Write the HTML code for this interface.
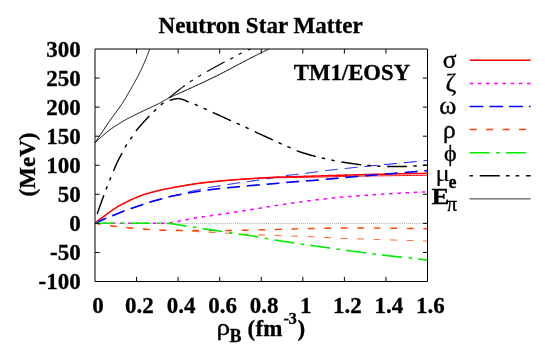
<!DOCTYPE html>
<html><head><meta charset="utf-8"><title>Neutron Star Matter</title>
<style>
html,body{margin:0;padding:0;background:#fff;}
svg{display:block;will-change:transform;}
text{font-family:"Liberation Serif",serif;fill:#000;}
.b{font-weight:bold;font-size:23px;stroke:#000;stroke-width:0.3px;}
.g{font-size:24px;}
</style></head><body>
<svg width="545" height="348" viewBox="0 0 545 348">
<rect width="545" height="348" fill="#fff"/>
<defs><clipPath id="cp"><rect x="95.00" y="49.00" width="332.50" height="232.50"/></clipPath></defs>
<line x1="95.00" y1="223.38" x2="427.50" y2="223.38" stroke="#888" stroke-width="0.8" stroke-dasharray="0.9,1.16"/>
<g clip-path="url(#cp)" fill="none">
<path d="M95.00,142.80 L95.31,142.34 L95.66,141.81 L96.06,141.21 L96.50,140.56 L96.97,139.85 L97.47,139.09 L98.01,138.29 L98.57,137.44 L99.15,136.57 L99.76,135.66 L100.38,134.72 L101.02,133.76 L101.67,132.79 L102.33,131.81 L102.99,130.81 L103.66,129.82 L104.32,128.83 L104.98,127.85 L105.64,126.88 L106.28,125.93 L106.91,125.00 L107.53,124.10 L108.13,123.23 L108.70,122.40 L109.27,121.59 L109.84,120.77 L110.42,119.95 L111.01,119.13 L111.59,118.31 L112.19,117.49 L112.78,116.67 L113.37,115.85 L113.97,115.03 L114.56,114.22 L115.15,113.42 L115.73,112.62 L116.31,111.83 L116.88,111.04 L117.45,110.26 L118.00,109.50 L118.55,108.74 L119.09,107.99 L119.61,107.26 L120.12,106.54 L120.61,105.83 L121.09,105.14 L121.56,104.46 L122.00,103.80 L122.43,103.16 L122.84,102.53 L123.23,101.92 L123.61,101.33 L123.97,100.75 L124.32,100.19 L124.66,99.63 L124.99,99.09 L125.31,98.56 L125.62,98.04 L125.92,97.53 L126.22,97.02 L126.51,96.52 L126.79,96.02 L127.07,95.53 L127.35,95.04 L127.63,94.55 L127.90,94.07 L128.18,93.58 L128.46,93.09 L128.74,92.60 L129.02,92.10 L129.31,91.61 L129.60,91.10 L129.89,90.59 L130.19,90.09 L130.48,89.59 L130.77,89.09 L131.05,88.60 L131.34,88.10 L131.62,87.61 L131.90,87.13 L132.18,86.64 L132.46,86.15 L132.73,85.67 L133.01,85.19 L133.28,84.71 L133.55,84.22 L133.82,83.74 L134.09,83.26 L134.36,82.78 L134.62,82.30 L134.89,81.82 L135.15,81.34 L135.42,80.86 L135.68,80.37 L135.94,79.89 L136.20,79.40 L136.46,78.91 L136.72,78.42 L136.98,77.94 L137.23,77.45 L137.49,76.96 L137.75,76.48 L138.00,75.99 L138.25,75.50 L138.50,75.01 L138.75,74.52 L139.00,74.04 L139.25,73.55 L139.50,73.06 L139.74,72.58 L139.98,72.09 L140.23,71.60 L140.47,71.11 L140.70,70.62 L140.94,70.14 L141.18,69.65 L141.41,69.16 L141.64,68.68 L141.87,68.19 L142.10,67.70 L142.33,67.21 L142.56,66.71 L142.79,66.21 L143.01,65.70 L143.24,65.18 L143.47,64.66 L143.70,64.15 L143.93,63.63 L144.15,63.11 L144.37,62.59 L144.59,62.07 L144.81,61.56 L145.03,61.05 L145.24,60.54 L145.45,60.04 L145.65,59.55 L145.85,59.07 L146.05,58.59 L146.24,58.13 L146.42,57.68 L146.60,57.24 L146.77,56.81 L146.94,56.40 L147.10,56.00 L147.25,55.62 L147.40,55.25 L147.53,54.90 L147.66,54.57 L147.79,54.24 L147.90,53.93 L148.02,53.63 L148.12,53.34 L148.22,53.05 L148.32,52.78 L148.42,52.50 L148.51,52.24 L148.60,51.97 L148.69,51.71 L148.78,51.46 L148.87,51.20 L148.95,50.94 L149.04,50.67 L149.13,50.41 L149.22,50.14 L149.31,49.87 L149.40,49.59 L149.50,49.30 L149.60,49.00 L149.70,48.69 L149.81,48.37 L149.92,48.04 L150.03,47.69 L150.15,47.34 L150.26,46.98 L150.38,46.62 L150.50,46.26 L150.61,45.89 L150.73,45.53 L150.84,45.17 L150.96,44.81 L151.07,44.46 L151.18,44.12 L151.28,43.79 L151.38,43.46 L151.48,43.15 L151.57,42.86 L151.66,42.58 L151.74,42.32 L151.82,42.08 L151.88,41.86 L151.95,41.67 L152.00,41.50" stroke="#000" stroke-width="1.00"/>
<path d="M95.00,142.80 L95.31,142.53 L95.65,142.21 L96.04,141.86 L96.46,141.47 L96.91,141.05 L97.39,140.60 L97.90,140.12 L98.44,139.61 L99.00,139.09 L99.59,138.55 L100.19,137.99 L100.81,137.43 L101.44,136.85 L102.09,136.26 L102.74,135.67 L103.40,135.09 L104.07,134.50 L104.74,133.92 L105.41,133.34 L106.08,132.78 L106.75,132.23 L107.41,131.70 L108.06,131.19 L108.70,130.70 L109.34,130.22 L109.99,129.75 L110.64,129.27 L111.31,128.80 L111.98,128.32 L112.66,127.85 L113.35,127.38 L114.04,126.91 L114.74,126.45 L115.45,125.99 L116.15,125.53 L116.86,125.07 L117.58,124.61 L118.29,124.16 L119.01,123.72 L119.72,123.27 L120.44,122.84 L121.15,122.40 L121.87,121.97 L122.58,121.55 L123.29,121.13 L124.00,120.71 L124.70,120.30 L125.40,119.90 L126.10,119.50 L126.79,119.11 L127.49,118.73 L128.18,118.36 L128.88,117.98 L129.57,117.62 L130.27,117.26 L130.97,116.90 L131.66,116.55 L132.36,116.20 L133.05,115.86 L133.75,115.52 L134.45,115.18 L135.14,114.84 L135.84,114.51 L136.53,114.17 L137.23,113.84 L137.93,113.51 L138.62,113.18 L139.32,112.84 L140.01,112.51 L140.71,112.17 L141.40,111.84 L142.10,111.50 L142.80,111.16 L143.51,110.82 L144.23,110.47 L144.96,110.13 L145.69,109.78 L146.43,109.44 L147.17,109.09 L147.91,108.75 L148.65,108.40 L149.39,108.06 L150.12,107.72 L150.86,107.38 L151.58,107.04 L152.30,106.71 L153.01,106.38 L153.71,106.05 L154.40,105.73 L155.08,105.41 L155.75,105.09 L156.39,104.78 L157.02,104.48 L157.64,104.18 L158.23,103.89 L158.80,103.60 L159.35,103.32 L159.87,103.05 L160.36,102.79 L160.83,102.53 L161.28,102.28 L161.72,102.03 L162.14,101.79 L162.54,101.56 L162.93,101.33 L163.32,101.10 L163.70,100.87 L164.07,100.65 L164.44,100.43 L164.81,100.21 L165.18,99.98 L165.56,99.76 L165.94,99.54 L166.34,99.32 L166.74,99.09 L167.16,98.86 L167.59,98.63 L168.04,98.39 L168.51,98.15 L169.00,97.90 L169.49,97.66 L169.97,97.43 L170.44,97.20 L170.89,96.99 L171.34,96.79 L171.78,96.59 L172.22,96.39 L172.67,96.19 L173.12,95.99 L173.58,95.79 L174.06,95.58 L174.55,95.37 L175.06,95.15 L175.60,94.91 L176.16,94.67 L176.76,94.41 L177.38,94.14 L178.05,93.84 L178.75,93.53 L179.50,93.20 L180.30,92.84 L181.14,92.45 L182.04,92.04 L183.00,91.60 L184.02,91.13 L185.10,90.63 L186.25,90.11 L187.44,89.56 L188.69,88.99 L189.99,88.40 L191.32,87.79 L192.70,87.16 L194.10,86.51 L195.54,85.86 L197.00,85.18 L198.49,84.50 L199.99,83.81 L201.50,83.11 L203.02,82.40 L204.55,81.69 L206.07,80.97 L207.60,80.25 L209.11,79.53 L210.61,78.82 L212.09,78.10 L213.55,77.40 L214.99,76.69 L216.40,76.00 L217.80,75.30 L219.23,74.58 L220.67,73.85 L222.13,73.10 L223.60,72.34 L225.08,71.57 L226.57,70.79 L228.06,70.01 L229.55,69.23 L231.04,68.44 L232.52,67.65 L233.99,66.87 L235.45,66.09 L236.89,65.32 L238.32,64.56 L239.72,63.81 L241.10,63.08 L242.45,62.36 L243.77,61.66 L245.06,60.98 L246.30,60.32 L247.51,59.68 L248.68,59.08 L249.80,58.50 L250.88,57.95 L251.92,57.42 L252.93,56.91 L253.91,56.41 L254.85,55.94 L255.77,55.48 L256.66,55.04 L257.52,54.61 L258.36,54.20 L259.17,53.80 L259.96,53.41 L260.74,53.03 L261.49,52.66 L262.23,52.31 L262.95,51.95 L263.66,51.61 L264.35,51.27 L265.04,50.94 L265.71,50.61 L266.38,50.29 L267.04,49.97 L267.70,49.64 L268.35,49.32 L269.00,49.00 L269.65,48.68 L270.29,48.36 L270.93,48.04 L271.56,47.73 L272.18,47.42 L272.79,47.11 L273.39,46.81 L273.98,46.52 L274.55,46.23 L275.12,45.95 L275.67,45.67 L276.20,45.41 L276.72,45.15 L277.22,44.90 L277.70,44.66 L278.16,44.43 L278.59,44.21 L279.01,44.00 L279.41,43.80 L279.78,43.61 L280.12,43.44 L280.44,43.28 L280.74,43.13 L281.00,43.00" stroke="#000" stroke-width="1.00"/>
<path d="M169.00,97.90 L169.16,97.77 L169.34,97.63 L169.53,97.46 L169.75,97.28 L169.99,97.09 L170.24,96.88 L170.50,96.66 L170.78,96.43 L171.07,96.19 L171.37,95.94 L171.69,95.69 L172.01,95.43 L172.33,95.16 L172.67,94.88 L173.00,94.61 L173.34,94.33 L173.68,94.06 L174.02,93.78 L174.36,93.51 L174.70,93.23 L175.03,92.97 L175.36,92.70 L175.69,92.45 L176.00,92.20 L176.31,91.95 L176.63,91.71 L176.95,91.46 L177.28,91.20 L177.61,90.95 L177.94,90.69 L178.28,90.43 L178.61,90.17 L178.95,89.91 L179.29,89.66 L179.63,89.40 L179.98,89.14 L180.32,88.88 L180.65,88.62 L180.99,88.37 L181.33,88.11 L181.66,87.86 L182.00,87.62 L182.32,87.37 L182.65,87.13 L182.97,86.89 L183.28,86.66 L183.59,86.43 L183.90,86.20 L184.20,85.98 L184.49,85.77 L184.77,85.56 L185.05,85.35 L185.32,85.15 L185.59,84.95 L185.85,84.76 L186.11,84.56 L186.37,84.37 L186.63,84.18 L186.89,84.00 L187.14,83.81 L187.40,83.63 L187.66,83.44 L187.92,83.26 L188.19,83.07 L188.45,82.88 L188.73,82.69 L189.00,82.50 L189.29,82.31 L189.58,82.11 L189.88,81.91 L190.18,81.71 L190.50,81.50 L190.83,81.29 L191.16,81.07 L191.51,80.85 L191.86,80.63 L192.22,80.40 L192.59,80.17 L192.96,79.94 L193.33,79.71 L193.71,79.47 L194.10,79.24 L194.48,79.00 L194.87,78.77 L195.26,78.53 L195.64,78.30 L196.03,78.07 L196.41,77.84 L196.79,77.61 L197.17,77.38 L197.54,77.16 L197.91,76.94 L198.27,76.72 L198.62,76.51 L198.96,76.30 L199.30,76.10 L199.62,75.91 L199.92,75.73 L200.20,75.56 L200.46,75.39 L200.71,75.24 L200.95,75.09 L201.18,74.95 L201.41,74.81 L201.63,74.68 L201.85,74.54 L202.08,74.41 L202.31,74.27 L202.54,74.13 L202.79,73.98 L203.05,73.83 L203.33,73.66 L203.62,73.49 L203.93,73.31 L204.27,73.11 L204.63,72.90 L205.03,72.68 L205.45,72.44 L205.91,72.18 L206.40,71.90 L206.94,71.60 L207.53,71.27 L208.16,70.91 L208.83,70.53 L209.54,70.14 L210.28,69.72 L211.04,69.29 L211.83,68.85 L212.64,68.40 L213.46,67.94 L214.29,67.48 L215.12,67.02 L215.96,66.56 L216.79,66.09 L217.61,65.64 L218.42,65.19 L219.21,64.76 L219.98,64.33 L220.73,63.92 L221.44,63.53 L222.12,63.16 L222.76,62.82 L223.35,62.49 L223.90,62.20 L224.40,61.93 L224.87,61.69 L225.30,61.46 L225.71,61.25 L226.09,61.06 L226.44,60.88 L226.77,60.72 L227.08,60.57 L227.37,60.43 L227.65,60.30 L227.91,60.17 L228.17,60.06 L228.42,59.94 L228.66,59.83 L228.90,59.72 L229.14,59.61 L229.39,59.49 L229.64,59.38 L229.90,59.25 L230.17,59.12 L230.45,58.98 L230.75,58.83 L231.06,58.67 L231.40,58.50 L231.75,58.32 L232.10,58.13 L232.46,57.94 L232.82,57.74 L233.18,57.54 L233.54,57.34 L233.91,57.14 L234.28,56.93 L234.66,56.72 L235.03,56.51 L235.41,56.30 L235.79,56.08 L236.18,55.87 L236.57,55.65 L236.96,55.43 L237.35,55.21 L237.75,55.00 L238.15,54.78 L238.55,54.56 L238.95,54.35 L239.36,54.13 L239.77,53.92 L240.18,53.71 L240.60,53.50 L241.02,53.29 L241.44,53.08 L241.87,52.88 L242.31,52.67 L242.75,52.47 L243.19,52.26 L243.64,52.06 L244.09,51.85 L244.54,51.65 L245.00,51.44 L245.45,51.24 L245.91,51.03 L246.37,50.83 L246.83,50.62 L247.29,50.41 L247.76,50.20 L248.22,49.99 L248.68,49.79 L249.14,49.57 L249.59,49.36 L250.05,49.15 L250.50,48.93 L250.95,48.72 L251.40,48.50 L251.85,48.28 L252.32,48.04 L252.81,47.80 L253.30,47.55 L253.80,47.29 L254.31,47.03 L254.83,46.77 L255.34,46.50 L255.86,46.23 L256.37,45.97 L256.87,45.70 L257.38,45.44 L257.87,45.18 L258.34,44.93 L258.81,44.68 L259.26,44.44 L259.69,44.22 L260.10,44.00 L260.49,43.80 L260.85,43.60 L261.18,43.43 L261.49,43.27 L261.76,43.12 L262.00,43.00" stroke="#000" stroke-width="1.15" stroke-dasharray="20.10,6.20,3.50,6.20,3.50,6.80" stroke-dashoffset="0.00"/>
<path d="M176.70,186.95 L177.08,186.89 L177.51,186.81 L177.99,186.73 L178.52,186.63 L179.09,186.53 L179.70,186.42 L180.35,186.30 L181.03,186.18 L181.74,186.06 L182.47,185.93 L183.23,185.79 L184.01,185.66 L184.80,185.52 L185.60,185.38 L186.40,185.24 L187.21,185.10 L188.03,184.96 L188.83,184.83 L189.63,184.69 L190.42,184.56 L191.20,184.44 L191.96,184.32 L192.69,184.21 L193.40,184.10 L194.10,184.00 L194.79,183.90 L195.49,183.80 L196.18,183.70 L196.88,183.60 L197.58,183.51 L198.27,183.42 L198.97,183.33 L199.66,183.24 L200.36,183.15 L201.05,183.06 L201.75,182.97 L202.45,182.89 L203.14,182.80 L203.84,182.72 L204.53,182.64 L205.23,182.55 L205.93,182.47 L206.62,182.39 L207.32,182.31 L208.01,182.23 L208.71,182.16 L209.40,182.08 L210.10,182.00 L210.79,181.92 L211.47,181.85 L212.14,181.78 L212.80,181.71 L213.45,181.64 L214.10,181.57 L214.74,181.50 L215.39,181.43 L216.03,181.37 L216.68,181.30 L217.33,181.24 L217.98,181.18 L218.64,181.11 L219.31,181.05 L219.99,180.99 L220.68,180.92 L221.38,180.86 L222.10,180.80 L222.83,180.73 L223.58,180.67 L224.35,180.60 L225.15,180.54 L225.96,180.47 L226.80,180.40 L227.66,180.33 L228.55,180.26 L229.47,180.19 L230.40,180.11 L231.36,180.04 L232.33,179.96 L233.32,179.89 L234.32,179.81 L235.33,179.73 L236.36,179.66 L237.40,179.58 L238.44,179.51 L239.50,179.43 L240.55,179.36 L241.61,179.28 L242.67,179.21 L243.73,179.14 L244.79,179.07 L245.84,179.00 L246.89,178.94 L247.93,178.87 L248.97,178.81 L249.99,178.76 L251.00,178.70 L252.00,178.65 L253.00,178.60 L254.00,178.55 L255.00,178.50 L256.00,178.45 L256.99,178.41 L257.98,178.36 L258.98,178.32 L259.97,178.28 L260.96,178.24 L261.96,178.21 L262.95,178.17 L263.94,178.13 L264.94,178.10 L265.94,178.07 L266.93,178.03 L267.93,178.00 L268.93,177.97 L269.94,177.94 L270.94,177.91 L271.95,177.88 L272.97,177.85 L273.98,177.83 L275.00,177.80 L276.01,177.77 L277.00,177.75 L277.97,177.73 L278.94,177.71 L279.89,177.69 L280.83,177.67 L281.77,177.66 L282.70,177.64 L283.64,177.63 L284.59,177.62 L285.54,177.61 L286.50,177.59 L287.48,177.58 L288.47,177.57 L289.48,177.56 L290.52,177.54 L291.58,177.53 L292.67,177.52 L293.80,177.50 L294.95,177.48 L296.15,177.47 L297.39,177.45 L298.67,177.42 L300.00,177.40 L301.39,177.37 L302.85,177.35 L304.36,177.32 L305.94,177.29 L307.56,177.26 L309.23,177.22 L310.93,177.19 L312.67,177.16 L314.43,177.12 L316.21,177.08 L318.01,177.05 L319.81,177.01 L321.62,176.98 L323.42,176.94 L325.22,176.90 L327.00,176.87 L328.76,176.83 L330.49,176.80 L332.19,176.76 L333.85,176.73 L335.47,176.69 L337.04,176.66 L338.55,176.63 L340.00,176.60 L341.39,176.57 L342.74,176.54 L344.05,176.51 L345.31,176.49 L346.55,176.46 L347.75,176.43 L348.92,176.40 L350.07,176.38 L351.20,176.35 L352.31,176.33 L353.41,176.30 L354.50,176.28 L355.58,176.25 L356.66,176.23 L357.73,176.20 L358.81,176.18 L359.90,176.15 L361.00,176.13 L362.11,176.11 L363.24,176.09 L364.39,176.06 L365.56,176.04 L366.77,176.02 L368.00,176.00 L369.26,175.98 L370.53,175.96 L371.82,175.94 L373.13,175.92 L374.44,175.90 L375.77,175.88 L377.10,175.87 L378.44,175.85 L379.79,175.83 L381.15,175.81 L382.51,175.80 L383.88,175.78 L385.24,175.77 L386.61,175.75 L387.97,175.73 L389.33,175.72 L390.69,175.70 L392.05,175.69 L393.40,175.67 L394.74,175.66 L396.07,175.64 L397.39,175.63 L398.70,175.61 L400.00,175.60 L401.31,175.59 L402.67,175.57 L404.05,175.56 L405.46,175.54 L406.90,175.53 L408.34,175.51 L409.80,175.50 L411.26,175.48 L412.71,175.47 L414.16,175.45 L415.59,175.44 L417.00,175.42 L418.38,175.41 L419.73,175.40 L421.04,175.39 L422.30,175.37 L423.51,175.36 L424.66,175.35 L425.74,175.34 L426.76,175.33 L427.70,175.32 L428.56,175.31 L429.33,175.31 L430.00,175.30" stroke="#ff0000" stroke-width="1.00"/>
<path d="M95.20,223.40 L95.44,223.28 L95.72,223.15 L96.04,222.99 L96.39,222.82 L96.77,222.63 L97.18,222.42 L97.61,222.21 L98.07,221.98 L98.54,221.75 L99.03,221.50 L99.53,221.26 L100.04,221.01 L100.56,220.75 L101.08,220.50 L101.59,220.25 L102.11,220.00 L102.61,219.75 L103.11,219.51 L103.59,219.28 L104.06,219.06 L104.51,218.85 L104.93,218.65 L105.33,218.47 L105.70,218.30 L106.04,218.15 L106.36,218.01 L106.66,217.88 L106.94,217.76 L107.21,217.65 L107.46,217.55 L107.70,217.46 L107.93,217.37 L108.16,217.29 L108.38,217.21 L108.60,217.13 L108.81,217.05 L109.03,216.97 L109.25,216.89 L109.48,216.81 L109.72,216.73 L109.97,216.64 L110.23,216.55 L110.51,216.45 L110.80,216.34 L111.12,216.22 L111.45,216.09 L111.81,215.95 L112.20,215.80 L112.62,215.63 L113.06,215.46 L113.53,215.27 L114.03,215.07 L114.55,214.86 L115.09,214.64 L115.64,214.42 L116.21,214.19 L116.79,213.95 L117.38,213.71 L117.97,213.47 L118.56,213.23 L119.16,212.99 L119.75,212.75 L120.33,212.51 L120.91,212.28 L121.48,212.05 L122.03,211.83 L122.57,211.62 L123.08,211.41 L123.58,211.22 L124.05,211.03 L124.49,210.86 L124.90,210.70 L125.28,210.55 L125.63,210.42 L125.95,210.30 L126.25,210.19 L126.52,210.09 L126.78,210.00 L127.02,209.91 L127.24,209.83 L127.45,209.75 L127.66,209.68 L127.86,209.62 L128.06,209.55 L128.25,209.48 L128.45,209.42 L128.66,209.35 L128.87,209.28 L129.09,209.21 L129.33,209.13 L129.59,209.05 L129.86,208.95 L130.15,208.86 L130.47,208.75 L130.82,208.63 L131.20,208.50 L131.61,208.36 L132.05,208.21 L132.52,208.05 L133.02,207.88 L133.53,207.70 L134.07,207.52 L134.62,207.33 L135.19,207.14 L135.77,206.94 L136.35,206.74 L136.94,206.54 L137.54,206.34 L138.13,206.14 L138.72,205.93 L139.30,205.74 L139.88,205.54 L140.44,205.35 L140.99,205.16 L141.52,204.98 L142.03,204.81 L142.51,204.64 L142.97,204.48 L143.40,204.34 L143.80,204.20 L144.17,204.07 L144.50,203.96 L144.81,203.85 L145.09,203.74 L145.36,203.65 L145.60,203.56 L145.82,203.48 L146.03,203.40 L146.23,203.32 L146.42,203.25 L146.60,203.18 L146.78,203.11 L146.96,203.05 L147.13,202.98 L147.31,202.91 L147.50,202.85 L147.69,202.78 L147.90,202.71 L148.12,202.64 L148.35,202.56 L148.60,202.48 L148.88,202.39 L149.18,202.30 L149.50,202.20 L149.85,202.10 L150.21,201.99 L150.60,201.88 L151.00,201.76 L151.41,201.64 L151.84,201.52 L152.28,201.40 L152.73,201.28 L153.18,201.15 L153.65,201.03 L154.11,200.90 L154.59,200.77 L155.06,200.64 L155.54,200.51 L156.01,200.38 L156.49,200.26 L156.95,200.13 L157.42,200.00 L157.87,199.88 L158.32,199.76 L158.76,199.64 L159.19,199.52 L159.60,199.41 L160.00,199.30 L160.38,199.19 L160.75,199.09 L161.11,198.99 L161.45,198.89 L161.79,198.79 L162.11,198.70 L162.43,198.61 L162.74,198.51 L163.05,198.42 L163.36,198.33 L163.66,198.25 L163.97,198.16 L164.28,198.07 L164.59,197.98 L164.91,197.89 L165.24,197.80 L165.57,197.70 L165.92,197.61 L166.28,197.51 L166.65,197.42 L167.03,197.32 L167.44,197.21 L167.86,197.11 L168.30,197.00 L168.77,196.89 L169.26,196.77 L169.77,196.65 L170.31,196.53 L170.86,196.41 L171.43,196.28 L172.01,196.15 L172.61,196.02 L173.21,195.89 L173.82,195.76 L174.43,195.63 L175.05,195.49 L175.66,195.36 L176.28,195.23 L176.88,195.10 L177.48,194.97 L178.07,194.84 L178.65,194.71 L179.21,194.58 L179.75,194.46 L180.27,194.34 L180.77,194.22 L181.25,194.11 L181.70,194.00 L182.12,193.89 L182.52,193.79 L182.89,193.69 L183.24,193.59 L183.58,193.49 L183.89,193.40 L184.19,193.31 L184.48,193.22 L184.76,193.13 L185.03,193.04 L185.30,192.95 L185.56,192.87 L185.82,192.78 L186.08,192.70 L186.34,192.61 L186.61,192.53 L186.88,192.44 L187.17,192.35 L187.46,192.26 L187.78,192.17 L188.10,192.08 L188.45,191.99 L188.81,191.90 L189.20,191.80 L189.61,191.70 L190.04,191.60 L190.49,191.50 L190.96,191.39 L191.44,191.29 L191.93,191.18 L192.43,191.07 L192.94,190.96 L193.46,190.85 L193.99,190.74 L194.52,190.63 L195.05,190.52 L195.58,190.41 L196.11,190.30 L196.64,190.19 L197.16,190.09 L197.67,189.98 L198.17,189.88 L198.66,189.77 L199.14,189.67 L199.61,189.58 L200.06,189.48 L200.49,189.39 L200.90,189.30 L201.29,189.21 L201.66,189.13 L202.02,189.05 L202.35,188.97 L202.68,188.89 L202.99,188.82 L203.29,188.75 L203.59,188.67 L203.87,188.60 L204.15,188.53 L204.43,188.47 L204.70,188.40 L204.97,188.33 L205.25,188.27 L205.52,188.20 L205.80,188.14 L206.09,188.07 L206.38,188.01 L206.69,187.94 L207.00,187.87 L207.33,187.81 L207.67,187.74 L208.03,187.67 L208.40,187.60 L208.79,187.53 L209.20,187.46 L209.62,187.38 L210.05,187.31 L210.49,187.24 L210.95,187.17 L211.41,187.09 L211.88,187.02 L212.35,186.94 L212.83,186.87 L213.32,186.80 L213.80,186.73 L214.29,186.65 L214.77,186.58 L215.25,186.51 L215.73,186.44 L216.21,186.37 L216.68,186.30 L217.14,186.23 L217.59,186.16 L218.04,186.09 L218.47,186.03 L218.89,185.96 L219.30,185.90 L219.69,185.84 L220.07,185.78 L220.44,185.72 L220.79,185.67 L221.14,185.61 L221.48,185.56 L221.81,185.51 L222.13,185.46 L222.45,185.41 L222.77,185.36 L223.09,185.31 L223.40,185.26 L223.72,185.21 L224.03,185.16 L224.35,185.11 L224.68,185.06 L225.01,185.01 L225.35,184.96 L225.69,184.90 L226.05,184.85 L226.42,184.79 L226.80,184.73 L227.19,184.67 L227.60,184.60 L228.03,184.53 L228.47,184.46 L228.93,184.39 L229.40,184.31 L229.89,184.23 L230.38,184.15 L230.89,184.06 L231.40,183.98 L231.92,183.89 L232.45,183.81 L232.97,183.72 L233.50,183.63 L234.03,183.54 L234.55,183.46 L235.07,183.37 L235.59,183.29 L236.09,183.21 L236.59,183.13 L237.08,183.05 L237.55,182.97 L238.02,182.90 L238.46,182.83 L238.89,182.76 L239.30,182.70 L239.70,182.64 L240.08,182.58 L240.46,182.53 L240.83,182.48 L241.19,182.42 L241.55,182.38 L241.89,182.33 L242.23,182.28 L242.57,182.24 L242.89,182.19 L243.21,182.15 L243.52,182.11 L243.82,182.07 L244.12,182.04 L244.41,182.00 L244.70,181.96 L244.98,181.93 L245.26,181.89 L245.53,181.86 L245.79,181.83 L246.05,181.79 L246.30,181.76 L246.55,181.73 L246.80,181.70 L247.01,181.67 L247.17,181.66 L247.27,181.65 L247.34,181.65 L247.36,181.65 L247.36,181.66 L247.34,181.67 L247.31,181.68 L247.27,181.70 L247.23,181.71 L247.20,181.72 L247.19,181.73 L247.20,181.74 L247.24,181.74 L247.32,181.73 L247.45,181.72 L247.63,181.70 L247.87,181.66 L248.18,181.62 L248.56,181.57 L249.03,181.50 L249.59,181.42 L250.24,181.32 L251.00,181.20 L251.89,181.06 L252.91,180.90 L254.05,180.72 L255.31,180.53 L256.67,180.31 L258.11,180.08 L259.63,179.84 L261.22,179.59 L262.86,179.33 L264.54,179.06 L266.25,178.79 L267.98,178.51 L269.72,178.24 L271.45,177.96 L273.16,177.69 L274.85,177.42 L276.49,177.16 L278.09,176.91 L279.62,176.67 L281.07,176.44 L282.44,176.23 L283.71,176.03 L284.86,175.86 L285.90,175.70 L286.83,175.56 L287.70,175.43 L288.50,175.32 L289.24,175.21 L289.92,175.11 L290.55,175.03 L291.14,174.95 L291.67,174.88 L292.17,174.81 L292.63,174.76 L293.06,174.70 L293.46,174.66 L293.84,174.61 L294.20,174.57 L294.54,174.54 L294.87,174.50 L295.19,174.47 L295.51,174.43 L295.84,174.40 L296.16,174.36 L296.50,174.33 L296.85,174.29 L297.21,174.25 L297.60,174.20 L297.99,174.15 L298.36,174.11 L298.70,174.07 L299.04,174.04 L299.35,174.00 L299.65,173.97 L299.94,173.94 L300.23,173.91 L300.50,173.89 L300.77,173.86 L301.04,173.84 L301.30,173.81 L301.57,173.79 L301.83,173.76 L302.11,173.74 L302.39,173.71 L302.67,173.68 L302.97,173.65 L303.28,173.61 L303.61,173.58 L303.95,173.54 L304.31,173.50 L304.70,173.45 L305.10,173.40 L305.53,173.35 L305.98,173.29 L306.46,173.23 L306.95,173.16 L307.47,173.09 L307.99,173.02 L308.53,172.95 L309.09,172.87 L309.65,172.80 L310.21,172.72 L310.78,172.64 L311.36,172.56 L311.93,172.48 L312.50,172.40 L313.07,172.33 L313.63,172.25 L314.18,172.17 L314.72,172.10 L315.24,172.02 L315.75,171.95 L316.25,171.89 L316.72,171.82 L317.17,171.76 L317.60,171.70 L318.00,171.65 L318.38,171.59 L318.73,171.54 L319.07,171.50 L319.38,171.45 L319.68,171.41 L319.97,171.37 L320.25,171.33 L320.52,171.29 L320.78,171.25 L321.03,171.22 L321.29,171.18 L321.54,171.15 L321.80,171.11 L322.06,171.07 L322.33,171.04 L322.61,171.00 L322.90,170.96 L323.20,170.92 L323.52,170.88 L323.86,170.84 L324.21,170.80 L324.59,170.75 L325.00,170.70 L325.43,170.65 L325.89,170.60 L326.37,170.54 L326.88,170.48 L327.40,170.42 L327.94,170.36 L328.49,170.30 L329.05,170.24 L329.62,170.17 L330.20,170.11 L330.79,170.05 L331.38,169.98 L331.96,169.92 L332.54,169.85 L333.12,169.79 L333.69,169.73 L334.25,169.67 L334.80,169.61 L335.34,169.55 L335.85,169.50 L336.35,169.44 L336.82,169.39 L337.28,169.35 L337.70,169.30 L338.10,169.26 L338.46,169.22 L338.81,169.18 L339.13,169.15 L339.43,169.12 L339.71,169.09 L339.98,169.07 L340.24,169.04 L340.49,169.02 L340.73,168.99 L340.96,168.97 L341.19,168.95 L341.43,168.93 L341.66,168.91 L341.90,168.88 L342.15,168.86 L342.41,168.83 L342.68,168.81 L342.96,168.78 L343.26,168.75 L343.59,168.72 L343.93,168.68 L344.30,168.64 L344.70,168.60 L345.11,168.56 L345.50,168.51 L345.89,168.47 L346.27,168.43 L346.65,168.38 L347.03,168.34 L347.42,168.29 L347.81,168.25 L348.21,168.20 L348.62,168.15 L349.06,168.10 L349.51,168.05 L349.98,168.00 L350.48,167.94 L351.00,167.88 L351.56,167.82 L352.15,167.75 L352.78,167.69 L353.45,167.61 L354.16,167.54 L354.92,167.46 L355.73,167.38 L356.58,167.29 L357.50,167.20 L358.47,167.10 L359.50,167.00 L360.59,166.90 L361.73,166.79 L362.91,166.67 L364.14,166.56 L365.41,166.44 L366.71,166.31 L368.06,166.18 L369.43,166.05 L370.83,165.92 L372.25,165.79 L373.69,165.65 L375.16,165.51 L376.63,165.37 L378.12,165.23 L379.61,165.09 L381.11,164.95 L382.61,164.81 L384.11,164.67 L385.60,164.52 L387.08,164.38 L388.55,164.24 L390.00,164.10 L391.48,163.96 L393.02,163.81 L394.62,163.65 L396.27,163.49 L397.96,163.33 L399.69,163.16 L401.43,162.99 L403.19,162.81 L404.96,162.64 L406.73,162.47 L408.49,162.30 L410.23,162.12 L411.95,161.96 L413.63,161.79 L415.27,161.63 L416.86,161.47 L418.40,161.32 L419.86,161.18 L421.25,161.04 L422.56,160.91 L423.78,160.80 L424.90,160.69 L425.91,160.59 L426.80,160.50 L427.58,160.42 L428.25,160.36 L428.83,160.30 L429.31,160.26 L429.72,160.22 L430.04,160.19 L430.29,160.16 L430.47,160.14 L430.60,160.13 L430.68,160.13 L430.71,160.12 L430.70,160.12 L430.66,160.13 L430.59,160.14 L430.51,160.15 L430.41,160.16 L430.31,160.17 L430.21,160.18 L430.12,160.19 L430.04,160.19 L429.98,160.20 L429.95,160.20 L429.96,160.20 L430.00,160.20" stroke="#0000ff" stroke-width="1.00" stroke-dasharray="12.90,6.90" stroke-dashoffset="0.30"/>
<path d="M93.65,223.00 L93.68,223.00 L93.71,223.00 L93.73,223.00 L93.76,223.00 L93.79,223.00 L93.81,222.99 L93.84,222.99 L93.87,222.99 L93.91,222.99 L93.94,222.98 L93.98,222.98 L94.03,222.98 L94.07,222.98 L94.13,222.98 L94.19,222.98 L94.26,222.99 L94.33,222.99 L94.41,223.00 L94.50,223.01 L94.60,223.02 L94.71,223.04 L94.83,223.06 L94.96,223.08 L95.10,223.10 L95.25,223.13 L95.41,223.16 L95.58,223.19 L95.75,223.22 L95.93,223.26 L96.12,223.30 L96.32,223.34 L96.52,223.38 L96.73,223.43 L96.95,223.47 L97.17,223.52 L97.40,223.57 L97.64,223.62 L97.89,223.67 L98.14,223.72 L98.40,223.77 L98.66,223.83 L98.94,223.88 L99.21,223.93 L99.50,223.99 L99.79,224.04 L100.09,224.09 L100.39,224.15 L100.70,224.20 L101.02,224.25 L101.36,224.31 L101.71,224.36 L102.07,224.42 L102.44,224.48 L102.83,224.54 L103.22,224.60 L103.62,224.66 L104.03,224.72 L104.44,224.78 L104.86,224.84 L105.28,224.90 L105.70,224.96 L106.13,225.02 L106.55,225.08 L106.97,225.14 L107.38,225.20 L107.79,225.26 L108.20,225.32 L108.60,225.38 L108.99,225.44 L109.37,225.49 L109.74,225.55 L110.10,225.60 L110.45,225.65 L110.79,225.70 L111.12,225.75 L111.44,225.80 L111.75,225.85 L112.06,225.90 L112.37,225.95 L112.67,226.00 L112.97,226.04 L113.26,226.09 L113.56,226.14 L113.85,226.18 L114.14,226.23 L114.44,226.27 L114.73,226.32 L115.03,226.36 L115.33,226.40 L115.64,226.45 L115.95,226.49 L116.26,226.53 L116.58,226.57 L116.91,226.62 L117.25,226.66 L117.60,226.70 L117.96,226.74 L118.33,226.78 L118.70,226.82 L119.09,226.86 L119.48,226.90 L119.88,226.94 L120.28,226.98 L120.69,227.02 L121.10,227.06 L121.51,227.09 L121.93,227.13 L122.34,227.17 L122.76,227.21 L123.17,227.24 L123.58,227.28 L123.99,227.31 L124.39,227.35 L124.79,227.39 L125.18,227.42 L125.56,227.46 L125.94,227.49 L126.30,227.53 L126.66,227.56 L127.00,227.60 L127.33,227.64 L127.65,227.67 L127.96,227.71 L128.25,227.74 L128.54,227.77 L128.82,227.81 L129.10,227.84 L129.36,227.88 L129.63,227.91 L129.89,227.95 L130.14,227.98 L130.40,228.01 L130.66,228.05 L130.91,228.08 L131.17,228.11 L131.44,228.14 L131.70,228.18 L131.98,228.21 L132.26,228.24 L132.55,228.27 L132.84,228.31 L133.15,228.34 L133.47,228.37 L133.80,228.40 L134.14,228.43 L134.50,228.46 L134.87,228.49 L135.25,228.52 L135.63,228.56 L136.03,228.59 L136.43,228.62 L136.84,228.65 L137.25,228.68 L137.66,228.71 L138.08,228.74 L138.50,228.77 L138.92,228.80 L139.34,228.83 L139.75,228.86 L140.16,228.89 L140.57,228.91 L140.97,228.94 L141.37,228.97 L141.75,229.00 L142.13,229.02 L142.50,229.05 L142.86,229.07 L143.20,229.10 L143.53,229.12 L143.85,229.15 L144.16,229.17 L144.45,229.19 L144.74,229.22 L145.02,229.24 L145.30,229.26 L145.56,229.28 L145.83,229.30 L146.09,229.32 L146.34,229.34 L146.60,229.36 L146.86,229.38 L147.11,229.40 L147.37,229.42 L147.64,229.44 L147.90,229.46 L148.18,229.48 L148.46,229.50 L148.75,229.52 L149.04,229.54 L149.35,229.56 L149.67,229.58 L150.00,229.60 L150.34,229.62 L150.69,229.64 L151.04,229.66 L151.40,229.69 L151.77,229.71 L152.14,229.73 L152.52,229.75 L152.90,229.77 L153.28,229.80 L153.67,229.82 L154.07,229.84 L154.46,229.86 L154.86,229.88 L155.27,229.91 L155.67,229.93 L156.08,229.95 L156.49,229.97 L156.90,229.99 L157.32,230.01 L157.73,230.03 L158.15,230.05 L158.57,230.07 L158.98,230.08 L159.40,230.10 L159.82,230.12 L160.23,230.13 L160.64,230.15 L161.05,230.16 L161.45,230.18 L161.86,230.19 L162.27,230.21 L162.68,230.22 L163.09,230.23 L163.51,230.24 L163.93,230.26 L164.35,230.27 L164.78,230.28 L165.21,230.29 L165.65,230.30 L166.10,230.31 L166.55,230.33 L167.01,230.34 L167.48,230.35 L167.96,230.36 L168.46,230.37 L168.96,230.38 L169.47,230.39 L170.00,230.40 L170.54,230.41 L171.11,230.42 L171.69,230.42 L172.29,230.43 L172.91,230.43 L173.53,230.44 L174.17,230.44 L174.82,230.44 L175.48,230.45 L176.14,230.45 L176.81,230.45 L177.47,230.46 L178.14,230.46 L178.81,230.47 L179.47,230.47 L180.13,230.48 L180.79,230.49 L181.43,230.50 L182.06,230.51 L182.68,230.52 L183.29,230.54 L183.88,230.56 L184.45,230.58 L185.00,230.60 L185.53,230.63 L186.05,230.66 L186.55,230.69 L187.03,230.72 L187.50,230.76 L187.96,230.80 L188.41,230.84 L188.85,230.88 L189.29,230.93 L189.71,230.97 L190.14,231.02 L190.56,231.06 L190.98,231.11 L191.41,231.16 L191.83,231.20 L192.26,231.25 L192.69,231.30 L193.13,231.35 L193.58,231.39 L194.04,231.44 L194.51,231.48 L194.99,231.52 L195.49,231.56 L196.00,231.60 L196.52,231.64 L197.04,231.67 L197.57,231.71 L198.09,231.74 L198.62,231.78 L199.15,231.81 L199.68,231.84 L200.22,231.87 L200.77,231.91 L201.32,231.94 L201.87,231.97 L202.44,232.00 L203.01,232.03 L203.59,232.06 L204.18,232.09 L204.78,232.13 L205.39,232.16 L206.01,232.19 L206.64,232.22 L207.28,232.26 L207.94,232.29 L208.61,232.33 L209.30,232.36 L210.00,232.40 L210.72,232.44 L211.47,232.48 L212.25,232.52 L213.04,232.56 L213.86,232.60 L214.70,232.64 L215.54,232.68 L216.41,232.72 L217.28,232.76 L218.16,232.80 L219.05,232.84 L219.94,232.89 L220.83,232.93 L221.72,232.97 L222.60,233.02 L223.48,233.06 L224.35,233.10 L225.21,233.15 L226.06,233.19 L226.89,233.23 L227.70,233.27 L228.49,233.32 L229.26,233.36 L230.00,233.40 L230.72,233.44 L231.42,233.48 L232.10,233.53 L232.77,233.57 L233.42,233.62 L234.05,233.66 L234.68,233.70 L235.30,233.75 L235.90,233.79 L236.50,233.84 L237.10,233.88 L237.69,233.93 L238.27,233.97 L238.86,234.01 L239.45,234.05 L240.04,234.10 L240.63,234.14 L241.23,234.18 L241.83,234.22 L242.44,234.26 L243.06,234.29 L243.70,234.33 L244.34,234.37 L245.00,234.40 L245.67,234.43 L246.35,234.46 L247.04,234.49 L247.73,234.52 L248.43,234.55 L249.13,234.58 L249.84,234.61 L250.56,234.63 L251.27,234.66 L251.99,234.68 L252.71,234.71 L253.44,234.73 L254.16,234.75 L254.89,234.78 L255.61,234.80 L256.33,234.82 L257.05,234.84 L257.77,234.87 L258.49,234.89 L259.20,234.91 L259.91,234.93 L260.61,234.95 L261.31,234.98 L262.00,235.00 L262.68,235.02 L263.37,235.04 L264.04,235.07 L264.71,235.09 L265.38,235.11 L266.05,235.13 L266.71,235.15 L267.37,235.17 L268.03,235.19 L268.69,235.21 L269.34,235.22 L270.00,235.24 L270.66,235.26 L271.31,235.28 L271.97,235.30 L272.63,235.32 L273.29,235.34 L273.95,235.36 L274.62,235.38 L275.29,235.41 L275.96,235.43 L276.63,235.45 L277.32,235.48 L278.00,235.50 L278.69,235.53 L279.38,235.55 L280.08,235.58 L280.79,235.61 L281.49,235.64 L282.20,235.67 L282.92,235.70 L283.63,235.73 L284.35,235.76 L285.06,235.79 L285.78,235.82 L286.50,235.85 L287.22,235.88 L287.94,235.91 L288.65,235.94 L289.37,235.97 L290.08,236.00 L290.80,236.03 L291.51,236.06 L292.21,236.09 L292.92,236.12 L293.62,236.15 L294.31,236.17 L295.00,236.20 L295.67,236.22 L296.32,236.24 L296.94,236.26 L297.54,236.28 L298.12,236.30 L298.70,236.31 L299.26,236.32 L299.81,236.34 L300.37,236.35 L300.93,236.36 L301.49,236.37 L302.06,236.39 L302.65,236.40 L303.25,236.42 L303.87,236.43 L304.52,236.45 L305.19,236.47 L305.90,236.50 L306.64,236.52 L307.42,236.55 L308.24,236.58 L309.11,236.62 L310.03,236.66 L311.00,236.70 L312.04,236.75 L313.15,236.80 L314.34,236.86 L315.58,236.93 L316.88,237.00 L318.23,237.07 L319.61,237.14 L321.04,237.22 L322.49,237.30 L323.96,237.38 L325.44,237.47 L326.94,237.55 L328.43,237.63 L329.92,237.72 L331.40,237.80 L332.85,237.88 L334.28,237.96 L335.68,238.03 L337.04,238.10 L338.35,238.17 L339.61,238.24 L340.81,238.30 L341.94,238.35 L343.00,238.40 L344.00,238.44 L344.94,238.48 L345.84,238.52 L346.70,238.55 L347.52,238.58 L348.30,238.61 L349.06,238.63 L349.78,238.65 L350.47,238.67 L351.15,238.69 L351.80,238.70 L352.44,238.72 L353.06,238.73 L353.68,238.75 L354.28,238.76 L354.89,238.77 L355.49,238.78 L356.10,238.80 L356.72,238.81 L357.34,238.82 L357.98,238.84 L358.63,238.86 L359.30,238.88 L360.00,238.90 L360.71,238.92 L361.42,238.95 L362.13,238.97 L362.84,239.00 L363.56,239.02 L364.27,239.05 L364.99,239.07 L365.70,239.10 L366.42,239.12 L367.13,239.15 L367.85,239.17 L368.56,239.20 L369.28,239.23 L369.99,239.25 L370.70,239.28 L371.41,239.30 L372.11,239.33 L372.82,239.35 L373.52,239.38 L374.22,239.40 L374.92,239.43 L375.62,239.45 L376.31,239.48 L377.00,239.50 L377.68,239.52 L378.37,239.55 L379.04,239.57 L379.71,239.59 L380.38,239.61 L381.05,239.63 L381.71,239.65 L382.37,239.67 L383.03,239.69 L383.69,239.72 L384.34,239.74 L385.00,239.76 L385.66,239.78 L386.31,239.80 L386.97,239.82 L387.63,239.84 L388.29,239.86 L388.95,239.88 L389.62,239.90 L390.29,239.92 L390.96,239.94 L391.63,239.96 L392.32,239.98 L393.00,240.00 L393.69,240.02 L394.38,240.04 L395.07,240.06 L395.77,240.08 L396.47,240.10 L397.17,240.12 L397.87,240.15 L398.57,240.17 L399.28,240.19 L399.98,240.21 L400.69,240.23 L401.40,240.25 L402.11,240.27 L402.82,240.29 L403.54,240.31 L404.25,240.33 L404.97,240.35 L405.68,240.38 L406.40,240.40 L407.12,240.42 L407.84,240.44 L408.56,240.46 L409.28,240.48 L410.00,240.50 L410.73,240.52 L411.49,240.54 L412.28,240.57 L413.07,240.59 L413.89,240.61 L414.71,240.63 L415.55,240.66 L416.39,240.68 L417.22,240.71 L418.06,240.73 L418.89,240.75 L419.71,240.78 L420.52,240.80 L421.31,240.82 L422.09,240.84 L422.84,240.86 L423.56,240.88 L424.25,240.90 L424.92,240.92 L425.54,240.94 L426.12,240.96 L426.66,240.97 L427.16,240.99 L427.60,241.00 L427.99,241.01 L428.34,241.02 L428.64,241.03 L428.91,241.04 L429.13,241.05 L429.33,241.06 L429.48,241.06 L429.61,241.07 L429.72,241.07 L429.80,241.08 L429.86,241.08 L429.90,241.08 L429.93,241.08 L429.94,241.09 L429.94,241.09 L429.94,241.09 L429.93,241.09 L429.93,241.09 L429.92,241.09 L429.91,241.09 L429.92,241.10 L429.93,241.10 L429.96,241.10 L430.00,241.10" stroke="#ff4500" stroke-width="0.90" stroke-dasharray="6.80,9.70" stroke-dashoffset="16.33"/>
<path d="M95.20,223.40 L95.28,223.33 L95.36,223.24 L95.45,223.15 L95.55,223.05 L95.66,222.95 L95.77,222.83 L95.89,222.71 L96.02,222.58 L96.15,222.45 L96.29,222.31 L96.43,222.17 L96.58,222.02 L96.74,221.87 L96.89,221.71 L97.06,221.56 L97.23,221.40 L97.40,221.24 L97.57,221.07 L97.75,220.91 L97.94,220.75 L98.12,220.58 L98.31,220.42 L98.51,220.26 L98.70,220.10 L98.90,219.94 L99.11,219.77 L99.33,219.60 L99.57,219.43 L99.80,219.25 L100.05,219.07 L100.30,218.88 L100.56,218.70 L100.82,218.51 L101.08,218.32 L101.35,218.13 L101.61,217.94 L101.88,217.75 L102.15,217.56 L102.41,217.37 L102.68,217.18 L102.94,217.00 L103.20,216.81 L103.45,216.63 L103.69,216.46 L103.93,216.29 L104.16,216.12 L104.39,215.96 L104.60,215.80 L104.80,215.65 L104.99,215.51 L105.17,215.37 L105.34,215.25 L105.49,215.12 L105.65,215.00 L105.79,214.89 L105.93,214.78 L106.07,214.67 L106.21,214.56 L106.34,214.45 L106.48,214.34 L106.62,214.23 L106.76,214.12 L106.91,214.01 L107.07,213.89 L107.23,213.77 L107.40,213.64 L107.58,213.50 L107.78,213.36 L107.98,213.21 L108.21,213.05 L108.44,212.88 L108.70,212.70 L108.97,212.51 L109.26,212.31 L109.56,212.09 L109.88,211.87 L110.21,211.64 L110.55,211.40 L110.89,211.16 L111.25,210.91 L111.62,210.66 L111.99,210.40 L112.37,210.14 L112.75,209.88 L113.14,209.61 L113.52,209.35 L113.91,209.08 L114.30,208.82 L114.69,208.56 L115.08,208.31 L115.46,208.06 L115.84,207.81 L116.22,207.57 L116.59,207.34 L116.95,207.12 L117.30,206.90 L117.65,206.69 L118.00,206.48 L118.36,206.28 L118.72,206.07 L119.08,205.87 L119.44,205.67 L119.81,205.48 L120.17,205.28 L120.53,205.09 L120.89,204.90 L121.25,204.71 L121.61,204.53 L121.96,204.35 L122.31,204.17 L122.65,204.00 L122.99,203.83 L123.32,203.66 L123.64,203.50 L123.96,203.34 L124.26,203.18 L124.56,203.03 L124.85,202.88 L125.13,202.74 L125.40,202.60 L125.65,202.47 L125.88,202.35 L126.08,202.24 L126.27,202.13 L126.44,202.04 L126.60,201.95 L126.74,201.87 L126.88,201.79 L127.01,201.71 L127.14,201.64 L127.27,201.57 L127.39,201.50 L127.52,201.43 L127.66,201.36 L127.81,201.28 L127.96,201.20 L128.13,201.12 L128.32,201.03 L128.52,200.93 L128.75,200.82 L128.99,200.71 L129.27,200.58 L129.57,200.45 L129.90,200.30 L130.26,200.14 L130.63,199.97 L131.03,199.79 L131.44,199.61 L131.86,199.41 L132.30,199.21 L132.76,199.01 L133.23,198.79 L133.71,198.57 L134.21,198.35 L134.72,198.13 L135.24,197.90 L135.77,197.67 L136.31,197.44 L136.86,197.21 L137.41,196.97 L137.98,196.74 L138.55,196.51 L139.13,196.28 L139.72,196.06 L140.31,195.84 L140.90,195.62 L141.50,195.41 L142.10,195.20 L142.71,195.00 L143.33,194.79 L143.96,194.59 L144.61,194.38 L145.26,194.17 L145.93,193.97 L146.61,193.77 L147.29,193.56 L147.98,193.36 L148.68,193.16 L149.38,192.95 L150.09,192.75 L150.81,192.55 L151.53,192.36 L152.25,192.16 L152.98,191.97 L153.71,191.77 L154.44,191.58 L155.17,191.40 L155.90,191.21 L156.62,191.03 L157.35,190.85 L158.08,190.67 L158.80,190.50 L159.52,190.33 L160.25,190.16 L160.99,190.00 L161.73,189.83 L162.47,189.67 L163.22,189.52 L163.97,189.36 L164.72,189.21 L165.48,189.05 L166.23,188.90 L166.99,188.76 L167.75,188.61 L168.51,188.46 L169.27,188.32 L170.02,188.18 L170.78,188.04 L171.53,187.90 L172.28,187.76 L173.03,187.62 L173.77,187.49 L174.51,187.35 L175.25,187.22 L175.98,187.08 L176.70,186.95 L177.42,186.82 L178.13,186.69 L178.84,186.56 L179.55,186.43 L180.26,186.30 L180.96,186.17 L181.66,186.04 L182.36,185.92 L183.05,185.80 L183.74,185.67 L184.43,185.55 L185.12,185.43 L185.81,185.32 L186.50,185.20 L187.19,185.08 L187.88,184.97 L188.57,184.86 L189.25,184.74 L189.94,184.63 L190.63,184.52 L191.32,184.42 L192.01,184.31 L192.71,184.20 L193.40,184.10 L194.10,184.00 L194.79,183.90 L195.49,183.80 L196.18,183.70 L196.88,183.60 L197.58,183.51 L198.27,183.42 L198.97,183.33 L199.66,183.24 L200.36,183.15 L201.05,183.06 L201.75,182.97 L202.45,182.89 L203.14,182.80 L203.84,182.72 L204.53,182.64 L205.23,182.55 L205.93,182.47 L206.62,182.39 L207.32,182.31 L208.01,182.23 L208.71,182.16 L209.40,182.08 L210.10,182.00 L210.79,181.92 L211.47,181.85 L212.14,181.78 L212.80,181.71 L213.45,181.64 L214.10,181.57 L214.74,181.50 L215.39,181.44 L216.03,181.37 L216.68,181.31 L217.33,181.24 L217.98,181.18 L218.64,181.12 L219.31,181.06 L219.99,180.99 L220.68,180.93 L221.38,180.87 L222.10,180.80 L222.83,180.74 L223.58,180.67 L224.35,180.61 L225.15,180.54 L225.96,180.47 L226.80,180.40 L227.66,180.33 L228.55,180.26 L229.47,180.18 L230.40,180.11 L231.36,180.03 L232.33,179.95 L233.32,179.87 L234.32,179.80 L235.33,179.72 L236.36,179.64 L237.40,179.56 L238.44,179.48 L239.50,179.40 L240.55,179.32 L241.61,179.25 L242.67,179.17 L243.73,179.09 L244.79,179.02 L245.84,178.95 L246.89,178.87 L247.93,178.80 L248.97,178.73 L249.99,178.67 L251.00,178.60 L252.00,178.54 L253.00,178.47 L254.00,178.41 L255.00,178.35 L256.00,178.29 L256.99,178.23 L257.98,178.17 L258.98,178.11 L259.97,178.05 L260.96,178.00 L261.96,177.94 L262.95,177.89 L263.94,177.83 L264.94,177.78 L265.94,177.73 L266.93,177.68 L267.93,177.63 L268.93,177.58 L269.94,177.53 L270.94,177.48 L271.95,177.44 L272.97,177.39 L273.98,177.34 L275.00,177.30 L276.01,177.26 L277.00,177.22 L277.97,177.18 L278.94,177.14 L279.89,177.11 L280.83,177.07 L281.77,177.04 L282.70,177.01 L283.64,176.98 L284.59,176.95 L285.54,176.92 L286.50,176.89 L287.48,176.87 L288.47,176.84 L289.48,176.81 L290.52,176.78 L291.58,176.75 L292.67,176.72 L293.80,176.68 L294.95,176.65 L296.15,176.62 L297.39,176.58 L298.67,176.54 L300.00,176.50 L301.39,176.46 L302.85,176.41 L304.36,176.37 L305.94,176.32 L307.56,176.27 L309.23,176.22 L310.93,176.17 L312.67,176.11 L314.43,176.06 L316.21,176.01 L318.01,175.95 L319.81,175.90 L321.62,175.85 L323.42,175.79 L325.22,175.74 L327.00,175.69 L328.76,175.63 L330.49,175.58 L332.19,175.53 L333.85,175.48 L335.47,175.43 L337.04,175.39 L338.55,175.34 L340.00,175.30 L341.39,175.26 L342.74,175.22 L344.05,175.18 L345.31,175.14 L346.55,175.11 L347.75,175.07 L348.92,175.03 L350.07,175.00 L351.20,174.97 L352.31,174.93 L353.41,174.90 L354.50,174.87 L355.58,174.84 L356.66,174.81 L357.73,174.78 L358.81,174.74 L359.90,174.71 L361.00,174.68 L362.11,174.65 L363.24,174.62 L364.39,174.59 L365.56,174.56 L366.77,174.53 L368.00,174.50 L369.26,174.47 L370.53,174.44 L371.82,174.41 L373.13,174.38 L374.44,174.34 L375.77,174.31 L377.10,174.28 L378.44,174.25 L379.79,174.22 L381.15,174.19 L382.51,174.16 L383.88,174.13 L385.24,174.10 L386.61,174.07 L387.97,174.04 L389.33,174.01 L390.69,173.99 L392.05,173.96 L393.40,173.93 L394.74,173.90 L396.07,173.88 L397.39,173.85 L398.70,173.83 L400.00,173.80 L401.31,173.77 L402.67,173.75 L404.05,173.72 L405.46,173.70 L406.90,173.67 L408.34,173.65 L409.80,173.62 L411.26,173.60 L412.71,173.58 L414.16,173.55 L415.59,173.53 L417.00,173.51 L418.38,173.48 L419.73,173.46 L421.04,173.44 L422.30,173.42 L423.51,173.40 L424.66,173.39 L425.74,173.37 L426.76,173.35 L427.70,173.34 L428.56,173.32 L429.33,173.31 L430.00,173.30" stroke="#ff0000" stroke-width="1.55"/>
<path d="M95.20,223.30 L95.75,223.30 L96.38,223.30 L97.08,223.30 L97.84,223.30 L98.66,223.30 L99.53,223.30 L100.46,223.30 L101.44,223.30 L102.46,223.30 L103.51,223.30 L104.60,223.30 L105.72,223.30 L106.87,223.30 L108.04,223.30 L109.23,223.30 L110.43,223.30 L111.64,223.30 L112.85,223.30 L114.07,223.30 L115.28,223.30 L116.48,223.30 L117.67,223.30 L118.85,223.30 L120.00,223.30 L121.16,223.30 L122.37,223.30 L123.61,223.30 L124.88,223.30 L126.19,223.30 L127.51,223.30 L128.85,223.30 L130.21,223.30 L131.57,223.30 L132.94,223.30 L134.31,223.30 L135.68,223.30 L137.03,223.30 L138.37,223.30 L139.69,223.30 L140.99,223.30 L142.26,223.30 L143.50,223.30 L144.71,223.30 L145.87,223.30 L146.98,223.30 L148.04,223.30 L149.05,223.30 L150.00,223.30 L150.90,223.30 L151.76,223.30 L152.59,223.30 L153.38,223.30 L154.14,223.30 L154.87,223.30 L155.57,223.31 L156.24,223.31 L156.88,223.31 L157.50,223.31 L158.09,223.31 L158.66,223.31 L159.20,223.31 L159.72,223.31 L160.22,223.31 L160.70,223.31 L161.17,223.31 L161.61,223.31 L162.04,223.31 L162.46,223.31 L162.86,223.31 L163.25,223.31 L163.63,223.30 L164.00,223.30 L164.35,223.30 L164.66,223.29 L164.93,223.29 L165.18,223.28 L165.40,223.28 L165.59,223.27 L165.76,223.27 L165.91,223.26 L166.04,223.26 L166.15,223.25 L166.25,223.24 L166.34,223.24 L166.43,223.23 L166.50,223.22 L166.58,223.21 L166.65,223.20 L166.72,223.19 L166.80,223.18 L166.89,223.17 L166.98,223.16 L167.09,223.15 L167.21,223.13 L167.34,223.12 L167.50,223.10 L167.67,223.08 L167.84,223.07 L168.00,223.05 L168.17,223.03 L168.35,223.01 L168.52,222.99 L168.69,222.97 L168.87,222.94 L169.05,222.92 L169.23,222.90 L169.41,222.87 L169.59,222.85 L169.78,222.82 L169.97,222.80 L170.16,222.77 L170.35,222.74 L170.55,222.72 L170.75,222.69 L170.95,222.66 L171.15,222.63 L171.36,222.60 L171.57,222.57 L171.78,222.53 L172.00,222.50 L172.21,222.47 L172.42,222.44 L172.61,222.41 L172.80,222.38 L172.99,222.36 L173.17,222.33 L173.36,222.30 L173.54,222.28 L173.73,222.25 L173.92,222.22 L174.11,222.19 L174.32,222.16 L174.53,222.13 L174.76,222.09 L175.00,222.05 L175.25,222.01 L175.52,221.96 L175.80,221.91 L176.11,221.86 L176.44,221.80 L176.79,221.73 L177.17,221.66 L177.57,221.58 L178.00,221.50 L178.46,221.41 L178.95,221.31 L179.46,221.20 L180.00,221.09 L180.56,220.97 L181.14,220.84 L181.74,220.71 L182.36,220.57 L182.99,220.43 L183.64,220.29 L184.30,220.15 L184.98,220.00 L185.66,219.85 L186.35,219.70 L187.05,219.55 L187.76,219.40 L188.46,219.26 L189.18,219.11 L189.89,218.97 L190.60,218.82 L191.31,218.69 L192.01,218.55 L192.71,218.42 L193.40,218.30 L194.09,218.18 L194.80,218.06 L195.51,217.94 L196.23,217.83 L196.95,217.71 L197.69,217.60 L198.43,217.49 L199.17,217.38 L199.92,217.27 L200.67,217.16 L201.42,217.05 L202.18,216.94 L202.93,216.84 L203.68,216.73 L204.44,216.63 L205.19,216.52 L205.93,216.42 L206.68,216.31 L207.41,216.21 L208.15,216.11 L208.87,216.01 L209.59,215.90 L210.30,215.80 L211.00,215.70 L211.69,215.60 L212.35,215.50 L213.00,215.41 L213.64,215.32 L214.26,215.23 L214.88,215.14 L215.49,215.05 L216.09,214.97 L216.69,214.88 L217.29,214.80 L217.88,214.71 L218.49,214.62 L219.10,214.54 L219.71,214.45 L220.34,214.36 L220.98,214.27 L221.63,214.17 L222.30,214.07 L222.99,213.97 L223.70,213.87 L224.44,213.76 L225.19,213.64 L225.98,213.52 L226.80,213.40 L227.65,213.27 L228.52,213.14 L229.42,213.00 L230.35,212.85 L231.30,212.71 L232.26,212.56 L233.25,212.40 L234.25,212.25 L235.27,212.09 L236.30,211.93 L237.34,211.76 L238.39,211.60 L239.44,211.43 L240.51,211.27 L241.57,211.10 L242.64,210.93 L243.70,210.76 L244.77,210.59 L245.83,210.42 L246.88,210.26 L247.93,210.09 L248.96,209.92 L249.99,209.76 L251.00,209.60 L252.00,209.44 L253.00,209.28 L254.00,209.12 L255.00,208.95 L256.00,208.79 L256.99,208.63 L257.98,208.46 L258.98,208.30 L259.97,208.14 L260.96,207.97 L261.96,207.81 L262.95,207.64 L263.94,207.48 L264.94,207.32 L265.94,207.15 L266.93,206.99 L267.93,206.83 L268.93,206.66 L269.94,206.50 L270.94,206.34 L271.95,206.18 L272.97,206.02 L273.98,205.86 L275.00,205.70 L276.03,205.54 L277.06,205.38 L278.11,205.22 L279.17,205.06 L280.23,204.90 L281.30,204.74 L282.37,204.57 L283.44,204.41 L284.52,204.25 L285.60,204.09 L286.68,203.93 L287.75,203.77 L288.82,203.61 L289.89,203.45 L290.95,203.30 L292.00,203.14 L293.04,202.99 L294.08,202.84 L295.10,202.70 L296.11,202.55 L297.11,202.41 L298.09,202.27 L299.05,202.13 L300.00,202.00 L300.93,201.87 L301.84,201.74 L302.74,201.62 L303.62,201.50 L304.49,201.38 L305.35,201.26 L306.20,201.15 L307.04,201.03 L307.87,200.92 L308.69,200.81 L309.50,200.71 L310.31,200.60 L311.12,200.50 L311.92,200.39 L312.72,200.29 L313.52,200.19 L314.32,200.09 L315.12,199.99 L315.92,199.89 L316.72,199.79 L317.53,199.69 L318.35,199.60 L319.17,199.50 L320.00,199.40 L320.83,199.30 L321.67,199.21 L322.50,199.11 L323.33,199.02 L324.17,198.92 L325.00,198.83 L325.83,198.74 L326.67,198.64 L327.50,198.55 L328.33,198.46 L329.17,198.38 L330.00,198.29 L330.83,198.20 L331.67,198.11 L332.50,198.03 L333.33,197.94 L334.17,197.86 L335.00,197.78 L335.83,197.70 L336.67,197.62 L337.50,197.54 L338.33,197.46 L339.17,197.38 L340.00,197.30 L340.83,197.22 L341.66,197.15 L342.49,197.08 L343.31,197.00 L344.14,196.93 L344.96,196.86 L345.78,196.79 L346.60,196.73 L347.43,196.66 L348.25,196.59 L349.07,196.53 L349.89,196.46 L350.72,196.40 L351.55,196.33 L352.38,196.27 L353.21,196.21 L354.04,196.14 L354.88,196.08 L355.72,196.02 L356.57,195.96 L357.42,195.89 L358.27,195.83 L359.13,195.76 L360.00,195.70 L360.87,195.64 L361.74,195.57 L362.62,195.51 L363.50,195.44 L364.38,195.38 L365.27,195.31 L366.16,195.25 L367.05,195.19 L367.94,195.12 L368.84,195.06 L369.74,194.99 L370.64,194.93 L371.55,194.87 L372.46,194.81 L373.37,194.74 L374.29,194.68 L375.20,194.62 L376.12,194.56 L377.05,194.50 L377.97,194.44 L378.90,194.38 L379.83,194.32 L380.76,194.26 L381.70,194.20 L382.64,194.14 L383.59,194.08 L384.54,194.03 L385.50,193.97 L386.46,193.91 L387.43,193.86 L388.40,193.80 L389.37,193.75 L390.35,193.69 L391.33,193.64 L392.31,193.58 L393.29,193.53 L394.28,193.47 L395.26,193.42 L396.24,193.37 L397.23,193.31 L398.21,193.26 L399.19,193.21 L400.16,193.16 L401.14,193.11 L402.11,193.05 L403.08,193.00 L404.04,192.95 L405.00,192.90 L405.97,192.85 L406.97,192.80 L408.00,192.74 L409.04,192.69 L410.10,192.63 L411.17,192.58 L412.25,192.52 L413.33,192.47 L414.41,192.41 L415.49,192.36 L416.55,192.31 L417.61,192.25 L418.64,192.20 L419.65,192.15 L420.64,192.10 L421.59,192.05 L422.51,192.01 L423.39,191.96 L424.22,191.92 L425.01,191.88 L425.75,191.84 L426.43,191.81 L427.05,191.78 L427.60,191.75 L428.09,191.72 L428.51,191.70 L428.88,191.68 L429.20,191.67 L429.46,191.65 L429.68,191.64 L429.85,191.63 L429.99,191.62 L430.08,191.61 L430.15,191.61 L430.19,191.61 L430.21,191.60 L430.21,191.60 L430.19,191.60 L430.16,191.60 L430.13,191.60 L430.08,191.60 L430.04,191.60 L430.00,191.60 L429.97,191.60 L429.95,191.60 L429.95,191.60 L429.96,191.60 L430.00,191.60" stroke="#ff00ff" stroke-width="1.50" stroke-dasharray="3.60,4.62" stroke-dashoffset="0.00"/>
<path d="M95.20,223.40 L95.44,223.28 L95.72,223.15 L96.04,222.99 L96.39,222.82 L96.77,222.63 L97.18,222.42 L97.61,222.21 L98.07,221.98 L98.54,221.75 L99.03,221.50 L99.53,221.26 L100.04,221.01 L100.56,220.75 L101.08,220.50 L101.59,220.25 L102.11,220.00 L102.61,219.75 L103.11,219.51 L103.59,219.28 L104.06,219.06 L104.51,218.85 L104.93,218.65 L105.33,218.47 L105.70,218.30 L106.04,218.15 L106.36,218.01 L106.66,217.88 L106.94,217.76 L107.21,217.65 L107.46,217.55 L107.70,217.46 L107.93,217.37 L108.16,217.29 L108.38,217.21 L108.60,217.13 L108.81,217.05 L109.03,216.97 L109.25,216.89 L109.48,216.81 L109.72,216.73 L109.97,216.64 L110.23,216.55 L110.51,216.45 L110.80,216.34 L111.12,216.22 L111.45,216.09 L111.81,215.95 L112.20,215.80 L112.62,215.63 L113.06,215.46 L113.53,215.27 L114.03,215.07 L114.55,214.86 L115.09,214.64 L115.64,214.42 L116.21,214.19 L116.79,213.95 L117.38,213.71 L117.97,213.47 L118.56,213.23 L119.16,212.99 L119.75,212.75 L120.33,212.51 L120.91,212.28 L121.48,212.05 L122.03,211.83 L122.57,211.62 L123.08,211.41 L123.58,211.22 L124.05,211.03 L124.49,210.86 L124.90,210.70 L125.28,210.55 L125.63,210.42 L125.95,210.30 L126.25,210.19 L126.52,210.09 L126.78,210.00 L127.02,209.91 L127.24,209.83 L127.45,209.75 L127.66,209.68 L127.86,209.62 L128.06,209.55 L128.25,209.48 L128.45,209.42 L128.66,209.35 L128.87,209.28 L129.09,209.21 L129.33,209.13 L129.59,209.05 L129.86,208.95 L130.15,208.86 L130.47,208.75 L130.82,208.63 L131.20,208.50 L131.61,208.36 L132.05,208.21 L132.52,208.05 L133.02,207.88 L133.53,207.70 L134.07,207.52 L134.62,207.33 L135.19,207.14 L135.77,206.94 L136.35,206.74 L136.94,206.54 L137.54,206.34 L138.13,206.14 L138.72,205.93 L139.30,205.74 L139.88,205.54 L140.44,205.35 L140.99,205.16 L141.52,204.98 L142.03,204.81 L142.51,204.64 L142.97,204.48 L143.40,204.34 L143.80,204.20 L144.17,204.07 L144.50,203.96 L144.81,203.85 L145.09,203.74 L145.36,203.65 L145.60,203.56 L145.82,203.48 L146.03,203.40 L146.23,203.32 L146.42,203.25 L146.60,203.18 L146.78,203.11 L146.96,203.05 L147.13,202.98 L147.31,202.91 L147.50,202.85 L147.69,202.78 L147.90,202.71 L148.12,202.64 L148.35,202.56 L148.60,202.48 L148.88,202.39 L149.18,202.30 L149.50,202.20 L149.85,202.10 L150.21,201.99 L150.60,201.88 L151.00,201.76 L151.41,201.64 L151.84,201.52 L152.28,201.40 L152.73,201.28 L153.18,201.15 L153.65,201.03 L154.11,200.90 L154.59,200.77 L155.06,200.64 L155.54,200.51 L156.01,200.38 L156.49,200.26 L156.95,200.13 L157.42,200.00 L157.87,199.88 L158.32,199.76 L158.76,199.64 L159.19,199.52 L159.60,199.41 L160.00,199.30 L160.38,199.19 L160.75,199.09 L161.11,198.99 L161.45,198.89 L161.79,198.79 L162.11,198.69 L162.43,198.60 L162.74,198.51 L163.05,198.42 L163.36,198.32 L163.66,198.23 L163.97,198.14 L164.28,198.05 L164.59,197.96 L164.91,197.87 L165.24,197.78 L165.57,197.69 L165.92,197.60 L166.28,197.50 L166.65,197.41 L167.03,197.31 L167.44,197.21 L167.86,197.10 L168.30,197.00 L168.77,196.89 L169.26,196.78 L169.78,196.66 L170.32,196.54 L170.87,196.42 L171.45,196.30 L172.04,196.17 L172.64,196.05 L173.25,195.92 L173.86,195.79 L174.48,195.66 L175.10,195.54 L175.72,195.41 L176.33,195.29 L176.94,195.16 L177.54,195.04 L178.13,194.92 L178.70,194.81 L179.26,194.69 L179.80,194.59 L180.31,194.48 L180.80,194.38 L181.27,194.29 L181.70,194.20 L182.10,194.12 L182.47,194.04 L182.82,193.97 L183.14,193.90 L183.43,193.84 L183.71,193.78 L183.97,193.73 L184.21,193.68 L184.45,193.63 L184.67,193.58 L184.89,193.54 L185.11,193.49 L185.32,193.45 L185.54,193.41 L185.76,193.37 L185.99,193.32 L186.22,193.28 L186.47,193.23 L186.74,193.18 L187.03,193.13 L187.33,193.08 L187.66,193.02 L188.02,192.96 L188.40,192.90 L188.81,192.83 L189.26,192.76 L189.72,192.69 L190.21,192.61 L190.73,192.53 L191.25,192.45 L191.80,192.36 L192.35,192.28 L192.92,192.19 L193.49,192.11 L194.07,192.02 L194.65,191.93 L195.23,191.84 L195.81,191.76 L196.38,191.67 L196.95,191.59 L197.50,191.51 L198.05,191.43 L198.57,191.35 L199.09,191.27 L199.58,191.20 L200.04,191.13 L200.49,191.06 L200.90,191.00 L201.29,190.94 L201.64,190.89 L201.98,190.84 L202.29,190.79 L202.57,190.74 L202.85,190.70 L203.10,190.66 L203.35,190.62 L203.58,190.58 L203.81,190.54 L204.03,190.51 L204.25,190.47 L204.47,190.44 L204.69,190.41 L204.92,190.37 L205.15,190.34 L205.40,190.30 L205.65,190.26 L205.93,190.23 L206.21,190.19 L206.52,190.14 L206.86,190.10 L207.21,190.05 L207.60,190.00 L208.01,189.95 L208.46,189.89 L208.92,189.83 L209.41,189.77 L209.93,189.71 L210.45,189.64 L211.00,189.57 L211.55,189.51 L212.12,189.44 L212.69,189.37 L213.27,189.30 L213.85,189.23 L214.43,189.16 L215.01,189.09 L215.58,189.03 L216.15,188.96 L216.70,188.89 L217.25,188.83 L217.77,188.77 L218.29,188.71 L218.78,188.65 L219.24,188.60 L219.69,188.55 L220.10,188.50 L220.48,188.46 L220.84,188.42 L221.17,188.38 L221.48,188.34 L221.76,188.31 L222.03,188.28 L222.28,188.25 L222.52,188.23 L222.75,188.20 L222.97,188.18 L223.19,188.15 L223.40,188.13 L223.62,188.11 L223.83,188.09 L224.06,188.06 L224.29,188.04 L224.54,188.02 L224.80,187.99 L225.07,187.96 L225.37,187.94 L225.69,187.91 L226.03,187.87 L226.40,187.84 L226.80,187.80 L227.23,187.76 L227.70,187.72 L228.19,187.67 L228.71,187.62 L229.25,187.57 L229.82,187.52 L230.40,187.47 L230.99,187.42 L231.59,187.36 L232.21,187.31 L232.83,187.26 L233.45,187.20 L234.07,187.14 L234.69,187.09 L235.31,187.04 L235.91,186.98 L236.50,186.93 L237.08,186.88 L237.65,186.83 L238.19,186.78 L238.71,186.73 L239.20,186.68 L239.67,186.64 L240.10,186.60 L240.49,186.56 L240.84,186.53 L241.16,186.50 L241.44,186.47 L241.69,186.44 L241.91,186.41 L242.12,186.39 L242.30,186.37 L242.48,186.34 L242.65,186.32 L242.82,186.30 L242.99,186.28 L243.16,186.26 L243.35,186.24 L243.55,186.21 L243.77,186.19 L244.02,186.16 L244.30,186.13 L244.60,186.10 L244.95,186.07 L245.34,186.03 L245.77,185.99 L246.26,185.95 L246.80,185.90 L247.40,185.85 L248.06,185.79 L248.77,185.73 L249.53,185.67 L250.34,185.60 L251.18,185.53 L252.06,185.46 L252.97,185.39 L253.90,185.31 L254.85,185.23 L255.81,185.15 L256.79,185.08 L257.77,185.00 L258.75,184.92 L259.72,184.84 L260.69,184.76 L261.64,184.68 L262.57,184.61 L263.48,184.53 L264.36,184.46 L265.21,184.39 L266.02,184.32 L266.78,184.26 L267.50,184.20 L268.18,184.14 L268.85,184.09 L269.49,184.03 L270.12,183.98 L270.74,183.92 L271.34,183.87 L271.92,183.82 L272.49,183.77 L273.04,183.73 L273.58,183.68 L274.11,183.63 L274.62,183.59 L275.13,183.54 L275.62,183.50 L276.10,183.46 L276.57,183.41 L277.03,183.37 L277.48,183.33 L277.92,183.29 L278.35,183.25 L278.77,183.21 L279.19,183.18 L279.60,183.14 L280.00,183.10 L280.38,183.06 L280.74,183.03 L281.07,183.00 L281.38,182.96 L281.66,182.93 L281.93,182.90 L282.18,182.88 L282.42,182.85 L282.65,182.82 L282.87,182.80 L283.09,182.77 L283.30,182.74 L283.52,182.72 L283.73,182.69 L283.96,182.67 L284.19,182.64 L284.44,182.61 L284.70,182.59 L284.97,182.56 L285.27,182.53 L285.59,182.50 L285.93,182.47 L286.30,182.43 L286.70,182.40 L287.13,182.36 L287.60,182.33 L288.09,182.29 L288.61,182.24 L289.15,182.20 L289.72,182.16 L290.30,182.12 L290.89,182.07 L291.49,182.03 L292.11,181.98 L292.73,181.93 L293.35,181.89 L293.97,181.84 L294.59,181.80 L295.21,181.75 L295.81,181.71 L296.40,181.66 L296.98,181.62 L297.55,181.58 L298.09,181.54 L298.61,181.50 L299.10,181.47 L299.57,181.43 L300.00,181.40 L300.40,181.37 L300.77,181.34 L301.11,181.32 L301.42,181.29 L301.72,181.27 L301.99,181.25 L302.24,181.23 L302.49,181.21 L302.71,181.20 L302.94,181.18 L303.15,181.17 L303.36,181.15 L303.57,181.13 L303.79,181.12 L304.01,181.10 L304.24,181.09 L304.48,181.07 L304.73,181.05 L305.00,181.03 L305.29,181.01 L305.60,180.98 L305.94,180.96 L306.30,180.93 L306.70,180.90 L307.13,180.87 L307.59,180.83 L308.07,180.80 L308.58,180.76 L309.12,180.72 L309.67,180.68 L310.24,180.64 L310.82,180.59 L311.41,180.55 L312.01,180.50 L312.62,180.46 L313.23,180.41 L313.84,180.37 L314.45,180.32 L315.05,180.28 L315.65,180.23 L316.23,180.18 L316.80,180.14 L317.36,180.10 L317.90,180.06 L318.41,180.01 L318.90,179.97 L319.37,179.94 L319.80,179.90 L320.20,179.87 L320.58,179.83 L320.92,179.80 L321.25,179.77 L321.55,179.74 L321.83,179.72 L322.10,179.69 L322.35,179.66 L322.59,179.64 L322.83,179.61 L323.06,179.59 L323.29,179.56 L323.52,179.54 L323.75,179.51 L323.98,179.49 L324.23,179.46 L324.48,179.43 L324.75,179.40 L325.04,179.37 L325.34,179.34 L325.67,179.31 L326.02,179.27 L326.39,179.24 L326.80,179.20 L327.24,179.16 L327.71,179.12 L328.21,179.07 L328.74,179.02 L329.29,178.97 L329.86,178.92 L330.44,178.87 L331.04,178.81 L331.65,178.76 L332.27,178.71 L332.89,178.65 L333.52,178.59 L334.14,178.54 L334.76,178.48 L335.38,178.43 L335.98,178.37 L336.57,178.32 L337.15,178.27 L337.70,178.22 L338.24,178.17 L338.75,178.12 L339.23,178.08 L339.68,178.04 L340.10,178.00 L340.48,177.96 L340.83,177.93 L341.14,177.90 L341.43,177.87 L341.69,177.84 L341.93,177.82 L342.15,177.80 L342.36,177.77 L342.55,177.75 L342.73,177.73 L342.91,177.71 L343.08,177.69 L343.25,177.67 L343.43,177.66 L343.61,177.64 L343.80,177.61 L344.00,177.59 L344.21,177.57 L344.45,177.55 L344.70,177.52 L344.98,177.49 L345.29,177.47 L345.63,177.43 L346.00,177.40 L346.39,177.36 L346.77,177.33 L347.14,177.30 L347.52,177.26 L347.90,177.23 L348.28,177.20 L348.67,177.16 L349.07,177.13 L349.49,177.09 L349.91,177.05 L350.36,177.01 L350.82,176.97 L351.30,176.93 L351.81,176.89 L352.35,176.84 L352.91,176.80 L353.51,176.75 L354.14,176.69 L354.81,176.64 L355.52,176.58 L356.27,176.51 L357.07,176.45 L357.91,176.37 L358.80,176.30 L359.74,176.22 L360.74,176.14 L361.78,176.05 L362.86,175.96 L363.99,175.86 L365.16,175.77 L366.36,175.67 L367.60,175.56 L368.87,175.46 L370.17,175.35 L371.50,175.24 L372.85,175.12 L374.22,175.01 L375.61,174.89 L377.02,174.78 L378.44,174.66 L379.88,174.54 L381.32,174.42 L382.77,174.30 L384.22,174.18 L385.67,174.06 L387.12,173.94 L388.56,173.82 L390.00,173.70 L391.47,173.58 L393.02,173.45 L394.63,173.32 L396.30,173.18 L398.02,173.04 L399.77,172.89 L401.56,172.75 L403.36,172.60 L405.18,172.45 L407.00,172.30 L408.81,172.15 L410.60,172.00 L412.37,171.85 L414.10,171.71 L415.80,171.57 L417.44,171.44 L419.02,171.31 L420.53,171.18 L421.95,171.07 L423.30,170.95 L424.54,170.85 L425.68,170.76 L426.70,170.67 L427.60,170.60 L428.38,170.54 L429.04,170.48 L429.60,170.43 L430.06,170.40 L430.44,170.37 L430.73,170.34 L430.95,170.32 L431.10,170.31 L431.18,170.30 L431.22,170.30 L431.20,170.30 L431.15,170.31 L431.06,170.31 L430.95,170.32 L430.82,170.33 L430.68,170.34 L430.54,170.36 L430.39,170.37 L430.26,170.38 L430.15,170.39 L430.06,170.40 L430.00,170.40 L429.98,170.40 L430.00,170.40" stroke="#0000ff" stroke-width="1.65" stroke-dasharray="12.90,6.90" stroke-dashoffset="1.16"/>
<path d="M93.65,223.00 L93.68,223.00 L93.71,223.00 L93.73,223.00 L93.76,223.00 L93.79,223.00 L93.81,222.99 L93.84,222.99 L93.87,222.99 L93.91,222.99 L93.94,222.98 L93.98,222.98 L94.03,222.98 L94.07,222.98 L94.13,222.98 L94.19,222.98 L94.26,222.99 L94.33,222.99 L94.41,223.00 L94.50,223.01 L94.60,223.02 L94.71,223.04 L94.83,223.06 L94.96,223.08 L95.10,223.10 L95.25,223.13 L95.41,223.16 L95.58,223.19 L95.75,223.22 L95.93,223.26 L96.12,223.30 L96.32,223.34 L96.52,223.38 L96.73,223.43 L96.95,223.47 L97.17,223.52 L97.40,223.57 L97.64,223.62 L97.89,223.67 L98.14,223.72 L98.40,223.77 L98.66,223.83 L98.94,223.88 L99.21,223.93 L99.50,223.99 L99.79,224.04 L100.09,224.09 L100.39,224.15 L100.70,224.20 L101.02,224.25 L101.36,224.31 L101.71,224.36 L102.07,224.42 L102.44,224.48 L102.83,224.54 L103.22,224.60 L103.62,224.66 L104.03,224.72 L104.44,224.78 L104.86,224.84 L105.28,224.90 L105.70,224.96 L106.13,225.02 L106.55,225.08 L106.97,225.14 L107.38,225.20 L107.79,225.26 L108.20,225.32 L108.60,225.38 L108.99,225.44 L109.37,225.49 L109.74,225.55 L110.10,225.60 L110.45,225.65 L110.79,225.70 L111.12,225.75 L111.44,225.80 L111.75,225.85 L112.06,225.90 L112.37,225.95 L112.67,226.00 L112.97,226.04 L113.26,226.09 L113.56,226.14 L113.85,226.18 L114.14,226.23 L114.44,226.27 L114.73,226.32 L115.03,226.36 L115.33,226.40 L115.64,226.45 L115.95,226.49 L116.26,226.53 L116.58,226.57 L116.91,226.62 L117.25,226.66 L117.60,226.70 L117.96,226.74 L118.33,226.78 L118.70,226.82 L119.09,226.86 L119.48,226.90 L119.88,226.94 L120.28,226.98 L120.69,227.02 L121.10,227.06 L121.51,227.09 L121.93,227.13 L122.34,227.17 L122.76,227.21 L123.17,227.24 L123.58,227.28 L123.99,227.31 L124.39,227.35 L124.79,227.39 L125.18,227.42 L125.56,227.46 L125.94,227.49 L126.30,227.53 L126.66,227.56 L127.00,227.60 L127.33,227.64 L127.65,227.67 L127.96,227.71 L128.25,227.74 L128.54,227.77 L128.82,227.81 L129.10,227.84 L129.36,227.88 L129.63,227.91 L129.89,227.95 L130.14,227.98 L130.40,228.01 L130.66,228.05 L130.91,228.08 L131.17,228.11 L131.44,228.14 L131.70,228.18 L131.98,228.21 L132.26,228.24 L132.55,228.27 L132.84,228.31 L133.15,228.34 L133.47,228.37 L133.80,228.40 L134.14,228.43 L134.50,228.46 L134.87,228.49 L135.25,228.52 L135.63,228.56 L136.03,228.59 L136.43,228.62 L136.84,228.65 L137.25,228.68 L137.66,228.71 L138.08,228.74 L138.50,228.77 L138.92,228.80 L139.34,228.83 L139.75,228.86 L140.16,228.89 L140.57,228.91 L140.97,228.94 L141.37,228.97 L141.75,229.00 L142.13,229.02 L142.50,229.05 L142.86,229.07 L143.20,229.10 L143.53,229.12 L143.85,229.15 L144.16,229.17 L144.45,229.19 L144.74,229.22 L145.02,229.24 L145.30,229.26 L145.56,229.28 L145.83,229.30 L146.09,229.32 L146.34,229.34 L146.60,229.36 L146.86,229.38 L147.11,229.40 L147.37,229.42 L147.64,229.44 L147.90,229.46 L148.18,229.48 L148.46,229.50 L148.75,229.52 L149.04,229.54 L149.35,229.56 L149.67,229.58 L150.00,229.60 L150.34,229.62 L150.69,229.64 L151.04,229.66 L151.40,229.69 L151.77,229.71 L152.14,229.73 L152.52,229.75 L152.90,229.77 L153.28,229.80 L153.67,229.82 L154.07,229.84 L154.46,229.86 L154.86,229.88 L155.27,229.91 L155.67,229.93 L156.08,229.95 L156.49,229.97 L156.90,229.99 L157.32,230.01 L157.73,230.03 L158.15,230.05 L158.57,230.07 L158.98,230.08 L159.40,230.10 L159.82,230.12 L160.23,230.13 L160.64,230.15 L161.05,230.16 L161.45,230.18 L161.86,230.19 L162.27,230.21 L162.68,230.22 L163.09,230.24 L163.51,230.25 L163.93,230.26 L164.35,230.28 L164.78,230.29 L165.21,230.30 L165.65,230.31 L166.10,230.32 L166.55,230.33 L167.01,230.34 L167.48,230.35 L167.96,230.36 L168.46,230.37 L168.96,230.38 L169.47,230.39 L170.00,230.40 L170.54,230.41 L171.10,230.42 L171.66,230.42 L172.25,230.43 L172.84,230.44 L173.44,230.44 L174.05,230.45 L174.67,230.45 L175.30,230.46 L175.94,230.46 L176.58,230.46 L177.22,230.47 L177.87,230.47 L178.53,230.48 L179.18,230.48 L179.84,230.48 L180.49,230.48 L181.15,230.49 L181.80,230.49 L182.45,230.49 L183.09,230.49 L183.74,230.50 L184.37,230.50 L185.00,230.50 L185.61,230.50 L186.20,230.50 L186.77,230.51 L187.33,230.51 L187.87,230.51 L188.40,230.51 L188.92,230.51 L189.44,230.51 L189.97,230.51 L190.49,230.51 L191.02,230.51 L191.56,230.51 L192.12,230.51 L192.69,230.51 L193.28,230.51 L193.89,230.51 L194.53,230.51 L195.20,230.51 L195.90,230.51 L196.63,230.51 L197.41,230.51 L198.22,230.50 L199.09,230.50 L200.00,230.50 L200.98,230.50 L202.02,230.50 L203.13,230.49 L204.31,230.49 L205.53,230.49 L206.80,230.48 L208.10,230.48 L209.44,230.47 L210.81,230.47 L212.20,230.47 L213.59,230.46 L215.00,230.46 L216.41,230.45 L217.80,230.45 L219.19,230.44 L220.56,230.44 L221.90,230.43 L223.20,230.43 L224.47,230.42 L225.69,230.42 L226.87,230.41 L227.98,230.41 L229.02,230.40 L230.00,230.40 L230.91,230.40 L231.77,230.39 L232.58,230.39 L233.34,230.39 L234.07,230.39 L234.76,230.38 L235.41,230.38 L236.04,230.38 L236.64,230.38 L237.21,230.38 L237.77,230.38 L238.31,230.38 L238.84,230.37 L239.37,230.37 L239.89,230.37 L240.41,230.36 L240.93,230.36 L241.46,230.35 L242.00,230.35 L242.56,230.34 L243.13,230.33 L243.73,230.32 L244.35,230.31 L245.00,230.30 L245.67,230.29 L246.35,230.27 L247.04,230.26 L247.73,230.24 L248.43,230.22 L249.13,230.20 L249.84,230.18 L250.56,230.16 L251.27,230.14 L251.99,230.11 L252.71,230.09 L253.44,230.07 L254.16,230.05 L254.89,230.02 L255.61,230.00 L256.33,229.97 L257.05,229.95 L257.77,229.93 L258.49,229.90 L259.20,229.88 L259.91,229.86 L260.61,229.84 L261.31,229.82 L262.00,229.80 L262.68,229.78 L263.37,229.76 L264.04,229.75 L264.71,229.73 L265.38,229.71 L266.05,229.70 L266.71,229.68 L267.37,229.66 L268.03,229.65 L268.69,229.63 L269.34,229.62 L270.00,229.60 L270.66,229.58 L271.31,229.57 L271.97,229.55 L272.63,229.54 L273.29,229.52 L273.95,229.50 L274.62,229.49 L275.29,229.47 L275.96,229.45 L276.63,229.44 L277.32,229.42 L278.00,229.40 L278.69,229.38 L279.38,229.36 L280.08,229.34 L280.79,229.32 L281.49,229.30 L282.20,229.28 L282.92,229.26 L283.63,229.24 L284.35,229.22 L285.06,229.19 L285.78,229.17 L286.50,229.15 L287.22,229.13 L287.94,229.11 L288.65,229.08 L289.37,229.06 L290.08,229.04 L290.80,229.02 L291.51,229.00 L292.21,228.98 L292.92,228.96 L293.62,228.94 L294.31,228.92 L295.00,228.90 L295.67,228.88 L296.33,228.86 L296.96,228.85 L297.57,228.83 L298.18,228.81 L298.77,228.79 L299.35,228.78 L299.93,228.76 L300.50,228.74 L301.08,228.73 L301.66,228.71 L302.25,228.69 L302.85,228.68 L303.46,228.66 L304.09,228.65 L304.74,228.63 L305.41,228.61 L306.11,228.60 L306.84,228.58 L307.59,228.57 L308.38,228.55 L309.21,228.53 L310.09,228.52 L311.00,228.50 L311.96,228.48 L312.96,228.47 L314.00,228.45 L315.07,228.43 L316.18,228.41 L317.31,228.39 L318.48,228.37 L319.67,228.35 L320.88,228.33 L322.11,228.31 L323.36,228.29 L324.62,228.27 L325.90,228.26 L327.19,228.24 L328.48,228.22 L329.78,228.20 L331.08,228.19 L332.38,228.17 L333.67,228.16 L334.96,228.14 L336.24,228.13 L337.51,228.12 L338.76,228.11 L340.00,228.10 L341.23,228.09 L342.46,228.09 L343.70,228.08 L344.94,228.07 L346.18,228.07 L347.43,228.07 L348.68,228.06 L349.93,228.06 L351.18,228.06 L352.43,228.06 L353.68,228.06 L354.94,228.06 L356.19,228.06 L357.45,228.07 L358.71,228.07 L359.96,228.07 L361.22,228.07 L362.48,228.08 L363.73,228.08 L364.99,228.08 L366.24,228.09 L367.50,228.09 L368.75,228.10 L370.00,228.10 L371.25,228.10 L372.51,228.11 L373.77,228.11 L375.03,228.12 L376.29,228.13 L377.56,228.13 L378.82,228.14 L380.09,228.14 L381.36,228.15 L382.62,228.16 L383.89,228.17 L385.15,228.17 L386.41,228.18 L387.67,228.19 L388.93,228.20 L390.18,228.21 L391.43,228.22 L392.67,228.23 L393.91,228.24 L395.14,228.25 L396.36,228.26 L397.58,228.28 L398.80,228.29 L400.00,228.30 L401.22,228.31 L402.46,228.33 L403.74,228.34 L405.03,228.36 L406.34,228.38 L407.66,228.40 L408.98,228.41 L410.31,228.43 L411.63,228.45 L412.95,228.47 L414.25,228.49 L415.53,228.51 L416.78,228.53 L418.01,228.55 L419.20,228.57 L420.36,228.59 L421.47,228.61 L422.53,228.62 L423.54,228.64 L424.49,228.65 L425.37,228.67 L426.19,228.68 L426.93,228.69 L427.60,228.70 L428.18,228.71 L428.69,228.71 L429.12,228.72 L429.49,228.72 L429.79,228.73 L430.03,228.73 L430.22,228.73 L430.36,228.73 L430.45,228.73 L430.51,228.73 L430.53,228.73 L430.53,228.72 L430.50,228.72 L430.45,228.72 L430.38,228.72 L430.31,228.71 L430.23,228.71 L430.16,228.71 L430.09,228.71 L430.03,228.70 L429.99,228.70 L429.96,228.70 L429.97,228.70 L430.00,228.70" stroke="#ff4500" stroke-width="1.45" stroke-dasharray="6.80,9.70" stroke-dashoffset="16.33"/>
<path d="M94.10,223.30 L94.68,223.30 L95.34,223.30 L96.07,223.30 L96.87,223.30 L97.73,223.30 L98.66,223.30 L99.64,223.30 L100.66,223.30 L101.74,223.30 L102.85,223.30 L104.00,223.30 L105.18,223.30 L106.38,223.30 L107.61,223.30 L108.85,223.30 L110.10,223.30 L111.37,223.30 L112.63,223.30 L113.89,223.30 L115.15,223.30 L116.39,223.30 L117.62,223.30 L118.82,223.30 L120.00,223.30 L121.19,223.30 L122.41,223.30 L123.67,223.30 L124.96,223.30 L126.27,223.30 L127.61,223.30 L128.96,223.30 L130.33,223.30 L131.70,223.30 L133.07,223.30 L134.44,223.30 L135.81,223.30 L137.16,223.30 L138.50,223.30 L139.81,223.30 L141.11,223.30 L142.37,223.30 L143.60,223.30 L144.79,223.30 L145.94,223.30 L147.04,223.30 L148.08,223.30 L149.07,223.30 L150.00,223.30 L150.87,223.30 L151.71,223.30 L152.50,223.30 L153.26,223.30 L153.98,223.30 L154.66,223.30 L155.32,223.30 L155.94,223.30 L156.53,223.30 L157.09,223.30 L157.63,223.30 L158.14,223.30 L158.63,223.30 L159.10,223.30 L159.55,223.30 L159.99,223.30 L160.40,223.30 L160.80,223.30 L161.19,223.30 L161.57,223.30 L161.94,223.30 L162.30,223.30 L162.65,223.30 L163.00,223.30 L163.33,223.30 L163.63,223.30 L163.90,223.30 L164.14,223.30 L164.35,223.30 L164.54,223.30 L164.71,223.30 L164.86,223.30 L165.00,223.30 L165.12,223.30 L165.23,223.30 L165.33,223.30 L165.43,223.30 L165.52,223.30 L165.60,223.30 L165.69,223.30 L165.78,223.30 L165.88,223.31 L165.98,223.31 L166.10,223.32 L166.22,223.32 L166.37,223.33 L166.52,223.34 L166.70,223.35 L166.89,223.36 L167.08,223.37 L167.28,223.38 L167.48,223.40 L167.69,223.41 L167.90,223.42 L168.11,223.44 L168.32,223.45 L168.54,223.47 L168.76,223.49 L168.98,223.50 L169.21,223.52 L169.43,223.54 L169.66,223.56 L169.89,223.58 L170.12,223.60 L170.35,223.62 L170.59,223.65 L170.82,223.67 L171.06,223.69 L171.29,223.72 L171.53,223.75 L171.76,223.77 L172.00,223.80 L172.23,223.83 L172.47,223.86 L172.70,223.89 L172.93,223.92 L173.16,223.95 L173.39,223.98 L173.63,224.01 L173.86,224.05 L174.09,224.08 L174.33,224.12 L174.57,224.15 L174.81,224.19 L175.05,224.23 L175.29,224.27 L175.54,224.31 L175.80,224.35 L176.05,224.39 L176.31,224.43 L176.58,224.47 L176.85,224.52 L177.13,224.56 L177.41,224.61 L177.70,224.65 L178.00,224.70 L178.30,224.75 L178.62,224.80 L178.94,224.85 L179.26,224.91 L179.60,224.96 L179.93,225.02 L180.28,225.08 L180.63,225.14 L180.98,225.20 L181.33,225.26 L181.69,225.32 L182.06,225.38 L182.42,225.44 L182.79,225.51 L183.15,225.57 L183.52,225.63 L183.89,225.69 L184.25,225.75 L184.62,225.81 L184.98,225.87 L185.34,225.93 L185.70,225.99 L186.05,226.05 L186.40,226.10 L186.75,226.15 L187.09,226.21 L187.44,226.26 L187.79,226.31 L188.13,226.36 L188.48,226.41 L188.83,226.46 L189.17,226.51 L189.52,226.56 L189.86,226.61 L190.21,226.66 L190.55,226.71 L190.89,226.75 L191.24,226.80 L191.58,226.85 L191.93,226.90 L192.27,226.95 L192.62,227.00 L192.97,227.05 L193.31,227.10 L193.66,227.15 L194.01,227.20 L194.35,227.25 L194.70,227.30 L195.04,227.35 L195.36,227.40 L195.67,227.45 L195.97,227.49 L196.25,227.54 L196.53,227.58 L196.81,227.62 L197.08,227.66 L197.35,227.71 L197.63,227.75 L197.91,227.79 L198.20,227.84 L198.50,227.88 L198.81,227.93 L199.13,227.98 L199.47,228.04 L199.83,228.09 L200.22,228.15 L200.62,228.22 L201.06,228.28 L201.52,228.36 L202.01,228.43 L202.54,228.51 L203.10,228.60 L203.71,228.69 L204.37,228.80 L205.08,228.91 L205.84,229.02 L206.63,229.15 L207.46,229.28 L208.32,229.41 L209.20,229.54 L210.10,229.68 L211.02,229.83 L211.94,229.97 L212.87,230.11 L213.80,230.26 L214.72,230.40 L215.63,230.54 L216.53,230.68 L217.41,230.81 L218.27,230.94 L219.09,231.07 L219.88,231.19 L220.63,231.30 L221.34,231.41 L222.00,231.51 L222.60,231.60 L223.16,231.68 L223.67,231.76 L224.16,231.83 L224.61,231.89 L225.03,231.95 L225.42,232.00 L225.79,232.05 L226.14,232.10 L226.47,232.14 L226.78,232.18 L227.07,232.21 L227.36,232.25 L227.63,232.28 L227.90,232.32 L228.16,232.35 L228.41,232.38 L228.67,232.41 L228.94,232.45 L229.20,232.48 L229.48,232.52 L229.76,232.56 L230.06,232.60 L230.37,232.65 L230.70,232.70 L231.03,232.75 L231.34,232.80 L231.65,232.85 L231.93,232.90 L232.21,232.95 L232.49,233.00 L232.75,233.05 L233.02,233.10 L233.28,233.15 L233.55,233.20 L233.83,233.25 L234.11,233.30 L234.40,233.35 L234.70,233.41 L235.01,233.47 L235.35,233.53 L235.70,233.59 L236.07,233.65 L236.47,233.72 L236.90,233.79 L237.35,233.86 L237.83,233.94 L238.35,234.02 L238.90,234.10 L239.50,234.19 L240.15,234.28 L240.85,234.38 L241.59,234.49 L242.37,234.59 L243.18,234.71 L244.02,234.82 L244.88,234.94 L245.76,235.06 L246.66,235.18 L247.57,235.31 L248.48,235.43 L249.39,235.56 L250.30,235.68 L251.20,235.80 L252.09,235.93 L252.95,236.05 L253.79,236.16 L254.61,236.28 L255.39,236.39 L256.14,236.50 L256.84,236.61 L257.50,236.71 L258.10,236.80 L258.66,236.89 L259.18,236.98 L259.68,237.06 L260.14,237.14 L260.58,237.22 L260.99,237.30 L261.37,237.38 L261.74,237.45 L262.09,237.52 L262.42,237.59 L262.74,237.66 L263.04,237.73 L263.34,237.79 L263.63,237.86 L263.91,237.92 L264.19,237.99 L264.47,238.05 L264.75,238.11 L265.04,238.18 L265.33,238.24 L265.63,238.30 L265.94,238.37 L266.26,238.43 L266.60,238.50 L266.94,238.57 L267.25,238.63 L267.56,238.69 L267.84,238.75 L268.12,238.80 L268.39,238.86 L268.66,238.91 L268.92,238.96 L269.18,239.02 L269.44,239.07 L269.71,239.12 L269.98,239.18 L270.26,239.23 L270.56,239.29 L270.87,239.34 L271.19,239.40 L271.54,239.47 L271.90,239.53 L272.29,239.60 L272.71,239.67 L273.16,239.75 L273.64,239.83 L274.15,239.91 L274.70,240.00 L275.30,240.10 L275.95,240.20 L276.64,240.31 L277.38,240.42 L278.16,240.54 L278.97,240.66 L279.81,240.79 L280.68,240.92 L281.56,241.06 L282.46,241.19 L283.37,241.33 L284.28,241.46 L285.19,241.60 L286.10,241.73 L287.00,241.87 L287.89,242.00 L288.76,242.13 L289.60,242.25 L290.41,242.38 L291.20,242.49 L291.94,242.60 L292.64,242.71 L293.30,242.81 L293.90,242.90 L294.46,242.98 L294.98,243.06 L295.47,243.14 L295.93,243.21 L296.36,243.28 L296.76,243.34 L297.14,243.40 L297.50,243.46 L297.85,243.51 L298.17,243.56 L298.48,243.61 L298.78,243.66 L299.07,243.70 L299.35,243.75 L299.63,243.79 L299.91,243.83 L300.18,243.88 L300.46,243.92 L300.74,243.96 L301.03,244.01 L301.33,244.05 L301.64,244.10 L301.96,244.15 L302.30,244.20 L302.64,244.25 L302.96,244.30 L303.27,244.35 L303.57,244.39 L303.85,244.43 L304.13,244.47 L304.41,244.52 L304.68,244.56 L304.95,244.60 L305.23,244.64 L305.51,244.68 L305.79,244.72 L306.09,244.76 L306.40,244.81 L306.72,244.85 L307.05,244.90 L307.41,244.95 L307.78,245.00 L308.18,245.06 L308.60,245.12 L309.06,245.18 L309.54,245.25 L310.05,245.32 L310.60,245.40 L311.19,245.48 L311.81,245.57 L312.47,245.66 L313.16,245.75 L313.88,245.85 L314.63,245.96 L315.40,246.06 L316.19,246.17 L317.00,246.28 L317.83,246.39 L318.67,246.51 L319.52,246.62 L320.38,246.74 L321.24,246.86 L322.10,246.98 L322.96,247.10 L323.82,247.21 L324.67,247.33 L325.52,247.45 L326.35,247.56 L327.17,247.68 L327.96,247.79 L328.74,247.89 L329.50,248.00 L330.24,248.10 L330.96,248.21 L331.68,248.31 L332.39,248.41 L333.09,248.51 L333.78,248.61 L334.47,248.71 L335.15,248.81 L335.83,248.91 L336.51,249.01 L337.18,249.11 L337.86,249.21 L338.53,249.30 L339.21,249.40 L339.89,249.50 L340.57,249.60 L341.26,249.70 L341.95,249.80 L342.65,249.90 L343.36,250.00 L344.08,250.10 L344.81,250.20 L345.55,250.30 L346.30,250.40 L347.07,250.50 L347.87,250.61 L348.69,250.72 L349.54,250.83 L350.39,250.94 L351.27,251.05 L352.15,251.17 L353.04,251.28 L353.94,251.40 L354.84,251.51 L355.74,251.62 L356.63,251.74 L357.52,251.85 L358.39,251.96 L359.25,252.07 L360.10,252.17 L360.93,252.28 L361.73,252.38 L362.51,252.48 L363.25,252.57 L363.97,252.66 L364.65,252.74 L365.30,252.82 L365.90,252.90 L366.46,252.97 L366.99,253.04 L367.48,253.10 L367.94,253.15 L368.37,253.20 L368.77,253.25 L369.14,253.30 L369.50,253.34 L369.84,253.38 L370.15,253.41 L370.46,253.45 L370.75,253.48 L371.03,253.51 L371.31,253.55 L371.58,253.58 L371.84,253.61 L372.11,253.64 L372.38,253.67 L372.66,253.70 L372.94,253.74 L373.23,253.78 L373.54,253.81 L373.86,253.86 L374.20,253.90 L374.54,253.95 L374.86,253.99 L375.17,254.03 L375.47,254.08 L375.76,254.12 L376.04,254.16 L376.32,254.21 L376.59,254.25 L376.87,254.30 L377.15,254.34 L377.43,254.39 L377.72,254.43 L378.02,254.48 L378.33,254.53 L378.65,254.58 L379.00,254.63 L379.36,254.68 L379.74,254.73 L380.14,254.79 L380.57,254.85 L381.03,254.91 L381.52,254.97 L382.04,255.03 L382.60,255.10 L383.20,255.17 L383.86,255.25 L384.56,255.33 L385.30,255.41 L386.08,255.50 L386.90,255.59 L387.74,255.68 L388.60,255.78 L389.49,255.87 L390.39,255.97 L391.29,256.07 L392.21,256.17 L393.12,256.27 L394.03,256.36 L394.92,256.46 L395.81,256.56 L396.67,256.65 L397.51,256.74 L398.33,256.83 L399.11,256.91 L399.85,256.99 L400.55,257.06 L401.20,257.13 L401.80,257.20 L402.35,257.26 L402.87,257.32 L403.36,257.37 L403.82,257.42 L404.25,257.47 L404.65,257.51 L405.03,257.55 L405.39,257.59 L405.72,257.63 L406.05,257.67 L406.35,257.70 L406.65,257.73 L406.94,257.76 L407.21,257.79 L407.49,257.82 L407.76,257.85 L408.03,257.88 L408.30,257.91 L408.58,257.94 L408.86,257.97 L409.15,258.00 L409.45,258.03 L409.77,258.07 L410.10,258.10 L410.44,258.13 L410.77,258.17 L411.10,258.20 L411.43,258.23 L411.76,258.27 L412.09,258.30 L412.41,258.33 L412.73,258.36 L413.06,258.39 L413.38,258.42 L413.70,258.45 L414.03,258.48 L414.35,258.51 L414.68,258.54 L415.00,258.58 L415.33,258.61 L415.67,258.64 L416.00,258.67 L416.34,258.71 L416.68,258.74 L417.03,258.78 L417.38,258.82 L417.74,258.86 L418.10,258.90 L418.47,258.94 L418.86,258.99 L419.26,259.04 L419.68,259.09 L420.10,259.14 L420.54,259.19 L420.97,259.25 L421.42,259.30 L421.86,259.36 L422.31,259.42 L422.76,259.47 L423.20,259.53 L423.64,259.59 L424.07,259.64 L424.49,259.70 L424.90,259.75 L425.30,259.80 L425.69,259.85 L426.06,259.90 L426.41,259.95 L426.74,259.99 L427.05,260.03 L427.34,260.07 L427.60,260.10 L427.84,260.13 L428.06,260.16 L428.26,260.18 L428.44,260.21 L428.60,260.23 L428.76,260.25 L428.89,260.26 L429.01,260.28 L429.13,260.29 L429.22,260.30 L429.31,260.32 L429.39,260.32 L429.47,260.33 L429.53,260.34 L429.59,260.35 L429.64,260.36 L429.69,260.36 L429.74,260.37 L429.78,260.37 L429.82,260.38 L429.86,260.38 L429.91,260.39 L429.95,260.39 L430.00,260.40" stroke="#00ee00" stroke-width="1.60" stroke-dasharray="20.10,6.50,3.60,6.10" stroke-dashoffset="0.00"/>
<path d="M97.10,214.10 L97.17,213.89 L97.25,213.66 L97.35,213.40 L97.45,213.11 L97.56,212.80 L97.67,212.46 L97.80,212.11 L97.93,211.74 L98.06,211.35 L98.20,210.95 L98.35,210.54 L98.49,210.11 L98.64,209.68 L98.80,209.25 L98.95,208.81 L99.11,208.36 L99.26,207.92 L99.42,207.48 L99.57,207.05 L99.72,206.62 L99.87,206.19 L100.02,205.78 L100.16,205.38 L100.30,205.00 L100.44,204.62 L100.57,204.24 L100.71,203.86 L100.85,203.48 L100.99,203.10 L101.12,202.72 L101.26,202.34 L101.40,201.96 L101.54,201.57 L101.68,201.19 L101.82,200.81 L101.96,200.43 L102.10,200.05 L102.24,199.67 L102.38,199.30 L102.52,198.92 L102.66,198.55 L102.79,198.18 L102.93,197.81 L103.07,197.44 L103.20,197.08 L103.34,196.71 L103.47,196.36 L103.60,196.00 L103.73,195.65 L103.86,195.30 L103.99,194.96 L104.11,194.62 L104.24,194.28 L104.36,193.95 L104.48,193.61 L104.61,193.29 L104.73,192.96 L104.85,192.63 L104.97,192.31 L105.09,191.98 L105.22,191.66 L105.34,191.33 L105.46,191.01 L105.58,190.68 L105.70,190.35 L105.83,190.03 L105.95,189.70 L106.08,189.36 L106.21,189.03 L106.34,188.69 L106.47,188.35 L106.60,188.00 L106.73,187.65 L106.87,187.30 L107.01,186.94 L107.14,186.58 L107.28,186.22 L107.42,185.86 L107.56,185.50 L107.70,185.13 L107.85,184.76 L107.99,184.39 L108.13,184.03 L108.28,183.66 L108.42,183.29 L108.56,182.92 L108.71,182.55 L108.85,182.18 L109.00,181.81 L109.14,181.45 L109.28,181.09 L109.43,180.72 L109.57,180.36 L109.72,180.01 L109.86,179.65 L110.00,179.30 L110.14,178.95 L110.28,178.61 L110.42,178.27 L110.56,177.93 L110.70,177.59 L110.84,177.26 L110.97,176.93 L111.11,176.60 L111.25,176.27 L111.39,175.94 L111.52,175.61 L111.66,175.28 L111.80,174.95 L111.94,174.62 L112.08,174.29 L112.22,173.96 L112.36,173.62 L112.51,173.29 L112.65,172.95 L112.80,172.61 L112.95,172.26 L113.10,171.91 L113.25,171.56 L113.40,171.20 L113.55,170.84 L113.71,170.47 L113.87,170.10 L114.03,169.73 L114.18,169.35 L114.34,168.97 L114.50,168.59 L114.67,168.20 L114.83,167.81 L114.99,167.42 L115.16,167.03 L115.33,166.64 L115.49,166.25 L115.66,165.86 L115.83,165.47 L116.00,165.08 L116.17,164.69 L116.34,164.30 L116.52,163.91 L116.69,163.52 L116.87,163.14 L117.04,162.76 L117.22,162.38 L117.40,162.00 L117.58,161.62 L117.76,161.25 L117.95,160.87 L118.14,160.50 L118.33,160.13 L118.52,159.75 L118.71,159.38 L118.90,159.00 L119.10,158.63 L119.29,158.26 L119.49,157.89 L119.69,157.52 L119.88,157.15 L120.08,156.78 L120.28,156.42 L120.47,156.05 L120.67,155.69 L120.86,155.33 L121.06,154.97 L121.25,154.61 L121.44,154.25 L121.63,153.90 L121.82,153.55 L122.00,153.20 L122.18,152.85 L122.36,152.51 L122.54,152.17 L122.71,151.83 L122.88,151.49 L123.05,151.15 L123.22,150.82 L123.39,150.49 L123.56,150.16 L123.72,149.83 L123.89,149.50 L124.06,149.18 L124.22,148.85 L124.39,148.52 L124.56,148.20 L124.73,147.88 L124.91,147.56 L125.08,147.23 L125.26,146.91 L125.44,146.59 L125.63,146.27 L125.81,145.94 L126.00,145.62 L126.20,145.30 L126.40,144.98 L126.61,144.65 L126.81,144.33 L127.03,144.01 L127.24,143.69 L127.46,143.36 L127.68,143.04 L127.91,142.72 L128.13,142.40 L128.36,142.08 L128.59,141.76 L128.82,141.44 L129.05,141.13 L129.28,140.81 L129.51,140.49 L129.74,140.18 L129.96,139.86 L130.19,139.55 L130.42,139.24 L130.64,138.93 L130.86,138.62 L131.08,138.31 L131.29,138.00 L131.50,137.70 L131.71,137.40 L131.91,137.10 L132.10,136.80 L132.30,136.51 L132.49,136.21 L132.67,135.92 L132.86,135.64 L133.04,135.35 L133.22,135.06 L133.40,134.78 L133.59,134.49 L133.77,134.21 L133.95,133.92 L134.14,133.64 L134.32,133.35 L134.51,133.06 L134.71,132.77 L134.91,132.49 L135.11,132.19 L135.31,131.90 L135.53,131.60 L135.74,131.31 L135.97,131.00 L136.20,130.70 L136.44,130.39 L136.68,130.08 L136.93,129.77 L137.19,129.45 L137.45,129.13 L137.71,128.81 L137.98,128.49 L138.25,128.17 L138.53,127.85 L138.81,127.52 L139.09,127.20 L139.37,126.87 L139.65,126.54 L139.94,126.22 L140.23,125.89 L140.51,125.56 L140.80,125.24 L141.09,124.91 L141.38,124.59 L141.67,124.27 L141.95,123.95 L142.24,123.63 L142.52,123.31 L142.80,123.00 L143.08,122.69 L143.36,122.37 L143.65,122.06 L143.94,121.74 L144.22,121.42 L144.51,121.10 L144.80,120.79 L145.10,120.47 L145.39,120.15 L145.68,119.84 L145.97,119.52 L146.26,119.21 L146.55,118.90 L146.84,118.59 L147.13,118.29 L147.41,117.99 L147.70,117.69 L147.98,117.39 L148.26,117.10 L148.53,116.81 L148.81,116.52 L149.07,116.24 L149.34,115.97 L149.60,115.70 L149.86,115.44 L150.11,115.18 L150.36,114.92 L150.61,114.67 L150.85,114.43 L151.09,114.19 L151.33,113.95 L151.57,113.71 L151.80,113.48 L152.03,113.26 L152.26,113.03 L152.49,112.81 L152.72,112.58 L152.95,112.37 L153.17,112.15 L153.40,111.93 L153.62,111.71 L153.85,111.50 L154.07,111.28 L154.30,111.07 L154.52,110.85 L154.75,110.64 L154.97,110.42 L155.20,110.20 L155.43,109.98 L155.65,109.76 L155.88,109.54 L156.11,109.32 L156.34,109.09 L156.56,108.87 L156.79,108.65 L157.02,108.43 L157.24,108.21 L157.47,107.99 L157.69,107.77 L157.92,107.56 L158.14,107.34 L158.36,107.13 L158.58,106.92 L158.80,106.71 L159.02,106.51 L159.24,106.31 L159.45,106.12 L159.67,105.92 L159.88,105.74 L160.09,105.55 L160.29,105.37 L160.50,105.20 L160.70,105.03 L160.90,104.86 L161.10,104.70 L161.30,104.54 L161.49,104.38 L161.69,104.23 L161.88,104.08 L162.07,103.93 L162.25,103.79 L162.44,103.65 L162.63,103.51 L162.81,103.38 L163.00,103.24 L163.18,103.11 L163.36,102.99 L163.54,102.87 L163.73,102.75 L163.91,102.63 L164.09,102.52 L164.27,102.41 L164.45,102.30 L164.63,102.20 L164.82,102.10 L165.00,102.00 L165.18,101.91 L165.36,101.82 L165.54,101.74 L165.72,101.66 L165.90,101.59 L166.08,101.52 L166.26,101.46 L166.43,101.40 L166.61,101.34 L166.79,101.29 L166.96,101.24 L167.14,101.19 L167.31,101.14 L167.49,101.09 L167.67,101.05 L167.84,101.00 L168.02,100.95 L168.20,100.91 L168.38,100.86 L168.56,100.81 L168.74,100.76 L168.93,100.71 L169.11,100.66 L169.30,100.60 L169.49,100.54 L169.68,100.48 L169.87,100.42 L170.06,100.36 L170.26,100.29 L170.45,100.23 L170.65,100.17 L170.85,100.10 L171.05,100.04 L171.25,99.98 L171.44,99.91 L171.64,99.85 L171.84,99.79 L172.04,99.73 L172.24,99.67 L172.44,99.61 L172.64,99.55 L172.84,99.49 L173.03,99.44 L173.23,99.39 L173.42,99.34 L173.62,99.29 L173.81,99.24 L174.00,99.20 L174.19,99.16 L174.38,99.12 L174.56,99.08 L174.75,99.04 L174.93,99.00 L175.12,98.96 L175.30,98.92 L175.48,98.88 L175.66,98.85 L175.84,98.81 L176.03,98.78 L176.21,98.75 L176.39,98.72 L176.57,98.70 L176.75,98.67 L176.93,98.65 L177.11,98.63 L177.29,98.62 L177.48,98.61 L177.66,98.60 L177.84,98.59 L178.03,98.59 L178.21,98.59 L178.40,98.60 L178.59,98.61 L178.77,98.62 L178.96,98.64 L179.15,98.66 L179.33,98.68 L179.52,98.71 L179.70,98.74 L179.89,98.77 L180.08,98.81 L180.26,98.84 L180.45,98.88 L180.64,98.92 L180.83,98.97 L181.02,99.02 L181.21,99.07 L181.40,99.12 L181.59,99.17 L181.79,99.23 L181.99,99.29 L182.18,99.35 L182.39,99.41 L182.59,99.47 L182.79,99.53 L183.00,99.60 L183.21,99.67 L183.41,99.74 L183.62,99.81 L183.82,99.88 L184.02,99.96 L184.23,100.04 L184.43,100.12 L184.64,100.20 L184.84,100.29 L185.05,100.38 L185.26,100.47 L185.48,100.56 L185.69,100.65 L185.91,100.74 L186.13,100.84 L186.36,100.94 L186.60,101.04 L186.83,101.14 L187.08,101.25 L187.33,101.36 L187.59,101.46 L187.85,101.57 L188.12,101.69 L188.40,101.80 L188.69,101.92 L188.98,102.03 L189.29,102.16 L189.60,102.28 L189.91,102.40 L190.24,102.53 L190.57,102.66 L190.90,102.79 L191.24,102.93 L191.58,103.06 L191.93,103.20 L192.28,103.34 L192.64,103.48 L192.99,103.62 L193.35,103.76 L193.71,103.91 L194.07,104.05 L194.44,104.20 L194.80,104.35 L195.16,104.50 L195.52,104.65 L195.88,104.80 L196.24,104.95 L196.60,105.10 L196.96,105.25 L197.32,105.41 L197.69,105.57 L198.06,105.73 L198.43,105.90 L198.81,106.06 L199.19,106.23 L199.57,106.40 L199.95,106.58 L200.33,106.75 L200.71,106.92 L201.09,107.09 L201.48,107.27 L201.86,107.44 L202.23,107.61 L202.61,107.79 L202.99,107.96 L203.36,108.13 L203.73,108.29 L204.09,108.46 L204.45,108.62 L204.81,108.79 L205.16,108.94 L205.50,109.10 L205.83,109.25 L206.14,109.39 L206.43,109.52 L206.70,109.64 L206.97,109.76 L207.22,109.88 L207.46,109.98 L207.70,110.09 L207.94,110.20 L208.17,110.31 L208.41,110.41 L208.66,110.53 L208.91,110.64 L209.17,110.76 L209.45,110.89 L209.74,111.02 L210.06,111.16 L210.39,111.31 L210.75,111.48 L211.14,111.65 L211.55,111.84 L212.00,112.04 L212.48,112.26 L213.00,112.50 L213.57,112.76 L214.19,113.04 L214.85,113.35 L215.56,113.67 L216.31,114.01 L217.09,114.37 L217.90,114.74 L218.73,115.12 L219.58,115.51 L220.45,115.90 L221.32,116.30 L222.20,116.71 L223.08,117.11 L223.95,117.51 L224.82,117.90 L225.67,118.29 L226.50,118.67 L227.31,119.04 L228.09,119.40 L228.84,119.74 L229.55,120.06 L230.21,120.36 L230.83,120.64 L231.40,120.90 L231.92,121.13 L232.40,121.35 L232.85,121.55 L233.26,121.73 L233.64,121.90 L234.00,122.06 L234.33,122.21 L234.64,122.34 L234.94,122.47 L235.21,122.59 L235.47,122.70 L235.73,122.81 L235.97,122.92 L236.21,123.02 L236.44,123.12 L236.68,123.22 L236.92,123.33 L237.16,123.43 L237.41,123.54 L237.68,123.66 L237.96,123.78 L238.25,123.91 L238.56,124.05 L238.90,124.20 L239.25,124.36 L239.62,124.52 L239.99,124.69 L240.36,124.86 L240.75,125.03 L241.14,125.21 L241.53,125.39 L241.93,125.57 L242.34,125.75 L242.74,125.93 L243.14,126.12 L243.55,126.30 L243.95,126.48 L244.36,126.67 L244.76,126.85 L245.16,127.03 L245.55,127.21 L245.94,127.39 L246.32,127.57 L246.69,127.74 L247.06,127.91 L247.42,128.08 L247.76,128.24 L248.10,128.40 L248.42,128.55 L248.71,128.69 L248.98,128.82 L249.23,128.94 L249.46,129.06 L249.68,129.17 L249.88,129.27 L250.09,129.38 L250.28,129.48 L250.48,129.58 L250.67,129.68 L250.88,129.79 L251.08,129.90 L251.31,130.01 L251.54,130.13 L251.79,130.26 L252.07,130.39 L252.36,130.54 L252.68,130.70 L253.04,130.87 L253.42,131.05 L253.84,131.25 L254.30,131.47 L254.80,131.70 L255.35,131.96 L255.96,132.24 L256.61,132.54 L257.31,132.86 L258.05,133.20 L258.83,133.55 L259.63,133.92 L260.46,134.30 L261.31,134.69 L262.18,135.08 L263.06,135.48 L263.94,135.88 L264.82,136.28 L265.70,136.68 L266.57,137.08 L267.43,137.47 L268.26,137.85 L269.08,138.22 L269.86,138.58 L270.62,138.92 L271.33,139.24 L272.00,139.55 L272.63,139.84 L273.20,140.10 L273.72,140.34 L274.21,140.57 L274.67,140.78 L275.09,140.98 L275.48,141.16 L275.85,141.33 L276.20,141.50 L276.52,141.65 L276.82,141.79 L277.11,141.93 L277.39,142.06 L277.65,142.19 L277.91,142.31 L278.16,142.43 L278.40,142.55 L278.65,142.66 L278.90,142.78 L279.15,142.90 L279.41,143.02 L279.68,143.14 L279.96,143.27 L280.25,143.41 L280.57,143.55 L280.90,143.70 L281.25,143.85 L281.60,144.01 L281.96,144.17 L282.32,144.33 L282.69,144.49 L283.06,144.65 L283.43,144.81 L283.80,144.97 L284.18,145.13 L284.56,145.29 L284.94,145.45 L285.32,145.61 L285.70,145.77 L286.08,145.93 L286.45,146.10 L286.83,146.26 L287.20,146.41 L287.57,146.57 L287.94,146.73 L288.30,146.89 L288.66,147.04 L289.01,147.20 L289.36,147.35 L289.70,147.50 L290.03,147.65 L290.33,147.79 L290.62,147.93 L290.89,148.07 L291.15,148.20 L291.40,148.33 L291.64,148.46 L291.88,148.59 L292.11,148.71 L292.35,148.84 L292.58,148.97 L292.82,149.09 L293.08,149.22 L293.34,149.35 L293.61,149.49 L293.90,149.63 L294.21,149.77 L294.54,149.91 L294.89,150.06 L295.27,150.22 L295.68,150.38 L296.12,150.54 L296.59,150.72 L297.10,150.90 L297.65,151.09 L298.26,151.30 L298.91,151.51 L299.59,151.74 L300.32,151.97 L301.07,152.21 L301.85,152.46 L302.66,152.71 L303.48,152.96 L304.32,153.22 L305.17,153.48 L306.02,153.74 L306.87,154.00 L307.72,154.25 L308.57,154.50 L309.40,154.75 L310.21,154.99 L311.01,155.22 L311.78,155.45 L312.52,155.66 L313.22,155.87 L313.89,156.06 L314.52,156.24 L315.10,156.40 L315.64,156.55 L316.15,156.69 L316.63,156.82 L317.08,156.94 L317.51,157.05 L317.91,157.15 L318.30,157.24 L318.67,157.33 L319.02,157.41 L319.35,157.48 L319.68,157.55 L319.99,157.62 L320.30,157.68 L320.60,157.74 L320.90,157.80 L321.20,157.86 L321.50,157.92 L321.80,157.98 L322.11,158.04 L322.42,158.11 L322.75,158.17 L323.08,158.24 L323.43,158.32 L323.80,158.40 L324.18,158.48 L324.56,158.57 L324.94,158.65 L325.32,158.74 L325.71,158.82 L326.10,158.91 L326.49,159.00 L326.88,159.08 L327.27,159.17 L327.66,159.25 L328.06,159.34 L328.45,159.43 L328.84,159.51 L329.24,159.60 L329.63,159.68 L330.02,159.76 L330.41,159.85 L330.80,159.93 L331.19,160.01 L331.58,160.09 L331.96,160.17 L332.34,160.25 L332.72,160.32 L333.10,160.40 L333.47,160.47 L333.81,160.54 L334.15,160.61 L334.46,160.68 L334.77,160.74 L335.07,160.80 L335.37,160.86 L335.66,160.92 L335.95,160.98 L336.24,161.03 L336.54,161.09 L336.84,161.15 L337.15,161.21 L337.47,161.27 L337.80,161.33 L338.15,161.39 L338.52,161.46 L338.91,161.53 L339.32,161.60 L339.76,161.67 L340.22,161.75 L340.71,161.83 L341.24,161.91 L341.80,162.00 L342.41,162.10 L343.06,162.20 L343.76,162.31 L344.51,162.42 L345.29,162.54 L346.10,162.66 L346.94,162.79 L347.80,162.92 L348.68,163.05 L349.57,163.19 L350.47,163.32 L351.38,163.46 L352.28,163.59 L353.18,163.72 L354.07,163.85 L354.95,163.98 L355.81,164.10 L356.64,164.22 L357.45,164.33 L358.22,164.44 L358.96,164.54 L359.65,164.64 L360.30,164.72 L360.90,164.80 L361.45,164.87 L361.96,164.93 L362.44,164.99 L362.89,165.04 L363.31,165.08 L363.69,165.12 L364.06,165.16 L364.40,165.19 L364.73,165.22 L365.04,165.24 L365.33,165.26 L365.62,165.28 L365.90,165.30 L366.17,165.31 L366.44,165.33 L366.71,165.34 L366.98,165.36 L367.26,165.37 L367.55,165.39 L367.84,165.41 L368.15,165.43 L368.48,165.45 L368.83,165.47 L369.20,165.50 L369.59,165.53 L369.98,165.56 L370.38,165.59 L370.79,165.62 L371.20,165.65 L371.62,165.69 L372.04,165.72 L372.47,165.75 L372.90,165.78 L373.33,165.82 L373.76,165.85 L374.19,165.88 L374.63,165.91 L375.06,165.94 L375.49,165.97 L375.92,166.00 L376.35,166.03 L376.77,166.06 L377.19,166.09 L377.61,166.11 L378.01,166.14 L378.42,166.16 L378.81,166.18 L379.20,166.20 L379.57,166.22 L379.92,166.23 L380.25,166.25 L380.57,166.26 L380.87,166.28 L381.16,166.29 L381.44,166.30 L381.72,166.31 L381.99,166.32 L382.27,166.33 L382.54,166.34 L382.82,166.34 L383.11,166.35 L383.42,166.36 L383.73,166.36 L384.06,166.37 L384.41,166.37 L384.78,166.38 L385.17,166.38 L385.59,166.38 L386.04,166.39 L386.53,166.39 L387.04,166.40 L387.60,166.40 L388.20,166.40 L388.85,166.41 L389.55,166.41 L390.29,166.42 L391.07,166.42 L391.88,166.43 L392.71,166.43 L393.57,166.43 L394.45,166.44 L395.34,166.44 L396.24,166.44 L397.15,166.44 L398.06,166.44 L398.96,166.45 L399.86,166.45 L400.74,166.44 L401.61,166.44 L402.45,166.44 L403.27,166.44 L404.05,166.43 L404.80,166.43 L405.52,166.42 L406.18,166.41 L406.80,166.40 L407.37,166.39 L407.92,166.38 L408.43,166.36 L408.91,166.35 L409.37,166.33 L409.81,166.31 L410.22,166.30 L410.61,166.28 L410.99,166.26 L411.35,166.24 L411.69,166.22 L412.03,166.19 L412.36,166.17 L412.68,166.15 L413.00,166.12 L413.31,166.10 L413.63,166.08 L413.94,166.05 L414.26,166.03 L414.59,166.00 L414.92,165.98 L415.27,165.95 L415.63,165.93 L416.00,165.90 L416.38,165.87 L416.78,165.85 L417.17,165.82 L417.57,165.79 L417.97,165.76 L418.38,165.73 L418.79,165.70 L419.20,165.67 L419.60,165.64 L420.01,165.61 L420.42,165.58 L420.82,165.54 L421.22,165.51 L421.61,165.48 L422.00,165.45 L422.38,165.42 L422.76,165.39 L423.12,165.36 L423.48,165.33 L423.83,165.30 L424.16,165.27 L424.49,165.25 L424.80,165.22 L425.10,165.20 L425.39,165.18 L425.67,165.15 L425.95,165.13 L426.22,165.11 L426.48,165.09 L426.74,165.07 L426.98,165.05 L427.23,165.03 L427.46,165.01 L427.69,164.99 L427.91,164.97 L428.12,164.96 L428.32,164.94 L428.52,164.92 L428.71,164.91 L428.89,164.89 L429.06,164.88 L429.22,164.86 L429.37,164.85 L429.52,164.84 L429.65,164.83 L429.78,164.82 L429.89,164.81 L430.00,164.80" stroke="#000" stroke-width="1.45" stroke-dasharray="20.00,6.20,3.50,6.20,3.50,6.70" stroke-dashoffset="0.00"/>
</g>
<g stroke="#000" stroke-width="1" fill="none">
<path d="M95.00,49.00 H427.50 V281.50 H95.00 Z"/>
<path d="M136.56,281.50 v-4.60 M136.56,49.00 v4.60 M178.12,281.50 v-4.60 M178.12,49.00 v4.60 M219.69,281.50 v-4.60 M219.69,49.00 v4.60 M261.25,281.50 v-4.60 M261.25,49.00 v4.60 M302.81,281.50 v-4.60 M302.81,49.00 v4.60 M344.38,281.50 v-4.60 M344.38,49.00 v4.60 M385.94,281.50 v-4.60 M385.94,49.00 v4.60 M95.00,252.44 h4.60 M427.50,252.44 h-4.60 M95.00,223.38 h4.60 M427.50,223.38 h-4.60 M95.00,194.31 h4.60 M427.50,194.31 h-4.60 M95.00,165.25 h4.60 M427.50,165.25 h-4.60 M95.00,136.19 h4.60 M427.50,136.19 h-4.60 M95.00,107.12 h4.60 M427.50,107.12 h-4.60 M95.00,78.06 h4.60 M427.50,78.06 h-4.60 "/>
</g>
<g class="b">
<text transform="translate(80.7,289.35) scale(1,1.045)" text-anchor="end">-100</text>
<text transform="translate(80.7,260.29) scale(1,1.045)" text-anchor="end">-50</text>
<text transform="translate(80.7,231.22) scale(1,1.045)" text-anchor="end">0</text>
<text transform="translate(80.7,202.16) scale(1,1.045)" text-anchor="end">50</text>
<text transform="translate(80.7,173.10) scale(1,1.045)" text-anchor="end">100</text>
<text transform="translate(80.7,144.04) scale(1,1.045)" text-anchor="end">150</text>
<text transform="translate(80.7,114.97) scale(1,1.045)" text-anchor="end">200</text>
<text transform="translate(80.7,85.91) scale(1,1.045)" text-anchor="end">250</text>
<text transform="translate(80.7,56.85) scale(1,1.045)" text-anchor="end">300</text>
<text transform="translate(97.90,312.8) scale(1,1.045)" text-anchor="middle">0</text>
<text transform="translate(139.46,312.8) scale(1,1.045)" text-anchor="middle">0.2</text>
<text transform="translate(181.03,312.8) scale(1,1.045)" text-anchor="middle">0.4</text>
<text transform="translate(222.59,312.8) scale(1,1.045)" text-anchor="middle">0.6</text>
<text transform="translate(264.15,312.8) scale(1,1.045)" text-anchor="middle">0.8</text>
<text transform="translate(305.71,312.8) scale(1,1.045)" text-anchor="middle">1</text>
<text transform="translate(347.27,312.8) scale(1,1.045)" text-anchor="middle">1.2</text>
<text transform="translate(388.84,312.8) scale(1,1.045)" text-anchor="middle">1.4</text>
<text transform="translate(430.40,312.8) scale(1,1.045)" text-anchor="middle">1.6</text>
<text x="260.6" y="32.9" text-anchor="middle" style="letter-spacing:0.03px">Neutron Star Matter</text>
<text x="352.0" y="79.5" text-anchor="middle" style="font-size:22.75px">TM1/EOSY</text>
<text transform="translate(34.5,164.5) rotate(-90)" text-anchor="middle">(MeV)</text>
</g>
<text transform="translate(216.6,335.2) scale(1.13,1)" style="font-size:24px" stroke="#000" stroke-width="0.35">ρ</text><text x="229.6" y="341.5" class="b" style="font-size:18px">B</text><text x="247.6" y="336.2" class="b" style="letter-spacing:0.2px">(fm</text><text x="283.4" y="324.2" class="b" style="font-size:16.6px;letter-spacing:-0.4px">-3</text><text x="297.5" y="336.2" class="b">)</text>
<g fill="none" stroke-width="1.45">
<path d="M469.6,60.2 H530.6" stroke="#ff0000"/>
<path d="M469.6,83.4 H530.6" stroke="#ff00ff" stroke-width="1.55" stroke-dasharray="3.60,4.60" stroke-dashoffset="0.00"/>
<path d="M469.6,106.5 H530.6" stroke="#0000ff" stroke-dasharray="13.80,5.95" stroke-dashoffset="0.00"/>
<path d="M469.6,129.5 H530.6" stroke="#ff4500" stroke-dasharray="7.10,9.35" stroke-dashoffset="0.00"/>
<path d="M469.6,152.7 H530.6" stroke="#00ee00" stroke-width="1.55" stroke-dasharray="20.10,6.45,3.60,6.05" stroke-dashoffset="0.00"/>
<path d="M469.6,175.8 H530.6" stroke="#000" stroke-dasharray="20.10,6.20,3.50,6.20,3.50,6.80" stroke-dashoffset="36.20"/>
<path d="M469.6,198.9 H530.6" stroke="#000" stroke-width="1" stroke-opacity="0.8"/>
</g>
<text x="456.6" y="67.7" text-anchor="end" style="font-size:25.5px" stroke="#000" stroke-width="0.35">σ</text>
<text x="456.2" y="90.8" text-anchor="end" style="font-size:26px" stroke="#000" stroke-width="0.35">ζ</text>
<text transform="translate(456.4,113.8) scale(1.04,1)" text-anchor="end" style="font-size:25px" stroke="#000" stroke-width="0.35">ω</text>
<text x="455.8" y="137.6" text-anchor="end" style="font-size:25.5px" stroke="#000" stroke-width="0.35">ρ</text>
<text x="456.6" y="160.9" text-anchor="end" style="font-size:24px" stroke="#000" stroke-width="0.35">ϕ</text>
<text transform="translate(435.2,180.5) scale(1.2,0.97)" style="font-size:23px">μ</text><text x="448.5" y="187.7" class="b" style="font-size:18px">e</text>
<text transform="translate(431.5,204.4) scale(1.16,1.04)" class="b">E</text><text x="446.8" y="210.6" style="font-size:20.5px" stroke="#000" stroke-width="0.35">π</text>
</svg></body></html>
